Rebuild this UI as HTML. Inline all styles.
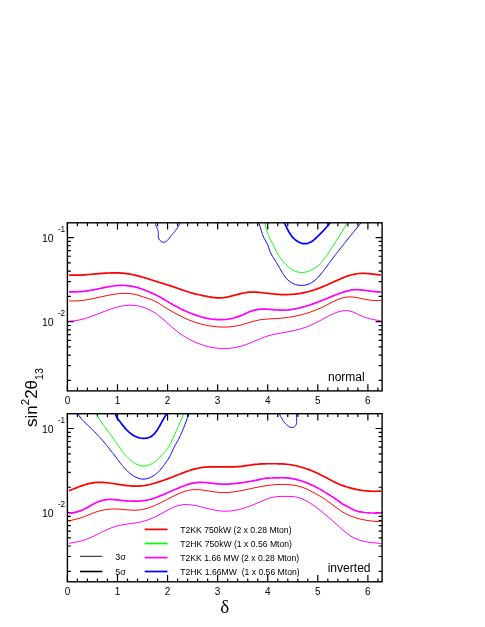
<!DOCTYPE html>
<html><head><meta charset="utf-8"><title>chart</title>
<style>html,body{margin:0;padding:0;background:#fff;}body{width:485px;height:627px;overflow:hidden;font-family:"Liberation Sans",sans-serif;}svg{display:block;will-change:transform;}</style>
</head><body>
<svg width="485" height="627" viewBox="0 0 485 627" font-family="Liberation Sans, sans-serif" fill="#000">
<defs><clipPath id="cu"><rect x="67.40" y="222.80" width="314.70" height="168.10"/></clipPath><clipPath id="cl"><rect x="67.40" y="413.70" width="314.70" height="168.10"/></clipPath></defs>
<path d="M67.40 390.90 v-6.70 M67.40 222.80 v6.70 M77.42 390.90 v-3.40 M77.42 222.80 v3.40 M87.43 390.90 v-3.40 M87.43 222.80 v3.40 M97.45 390.90 v-3.40 M97.45 222.80 v3.40 M107.46 390.90 v-3.40 M107.46 222.80 v3.40 M117.48 390.90 v-6.70 M117.48 222.80 v6.70 M127.50 390.90 v-3.40 M127.50 222.80 v3.40 M137.51 390.90 v-3.40 M137.51 222.80 v3.40 M147.53 390.90 v-3.40 M147.53 222.80 v3.40 M157.54 390.90 v-3.40 M157.54 222.80 v3.40 M167.56 390.90 v-6.70 M167.56 222.80 v6.70 M177.58 390.90 v-3.40 M177.58 222.80 v3.40 M187.59 390.90 v-3.40 M187.59 222.80 v3.40 M197.61 390.90 v-3.40 M197.61 222.80 v3.40 M207.62 390.90 v-3.40 M207.62 222.80 v3.40 M217.64 390.90 v-6.70 M217.64 222.80 v6.70 M227.66 390.90 v-3.40 M227.66 222.80 v3.40 M237.67 390.90 v-3.40 M237.67 222.80 v3.40 M247.69 390.90 v-3.40 M247.69 222.80 v3.40 M257.70 390.90 v-3.40 M257.70 222.80 v3.40 M267.72 390.90 v-6.70 M267.72 222.80 v6.70 M277.74 390.90 v-3.40 M277.74 222.80 v3.40 M287.75 390.90 v-3.40 M287.75 222.80 v3.40 M297.77 390.90 v-3.40 M297.77 222.80 v3.40 M307.78 390.90 v-3.40 M307.78 222.80 v3.40 M317.80 390.90 v-6.70 M317.80 222.80 v6.70 M327.82 390.90 v-3.40 M327.82 222.80 v3.40 M337.83 390.90 v-3.40 M337.83 222.80 v3.40 M347.85 390.90 v-3.40 M347.85 222.80 v3.40 M357.86 390.90 v-3.40 M357.86 222.80 v3.40 M367.88 390.90 v-6.70 M367.88 222.80 v6.70 M377.90 390.90 v-3.40 M377.90 222.80 v3.40 M67.40 380.40 h3.50 M382.10 380.40 h-3.50 M67.40 365.60 h3.50 M382.10 365.60 h-3.50 M67.40 355.10 h3.50 M382.10 355.10 h-3.50 M67.40 346.95 h3.50 M382.10 346.95 h-3.50 M67.40 340.30 h3.50 M382.10 340.30 h-3.50 M67.40 334.67 h3.50 M382.10 334.67 h-3.50 M67.40 329.80 h3.50 M382.10 329.80 h-3.50 M67.40 325.50 h3.50 M382.10 325.50 h-3.50 M67.40 321.65 h6.50 M382.10 321.65 h-6.50 M67.40 296.35 h3.50 M382.10 296.35 h-3.50 M67.40 281.55 h3.50 M382.10 281.55 h-3.50 M67.40 271.05 h3.50 M382.10 271.05 h-3.50 M67.40 262.90 h3.50 M382.10 262.90 h-3.50 M67.40 256.25 h3.50 M382.10 256.25 h-3.50 M67.40 250.62 h3.50 M382.10 250.62 h-3.50 M67.40 245.75 h3.50 M382.10 245.75 h-3.50 M67.40 241.45 h3.50 M382.10 241.45 h-3.50 M67.40 237.60 h6.50 M382.10 237.60 h-6.50" stroke="#000" stroke-width="1.2" fill="none"/>
<text x="67.50" y="404.30" font-size="10" text-anchor="middle">0</text>
<text x="117.55" y="404.30" font-size="10" text-anchor="middle">1</text>
<text x="167.60" y="404.30" font-size="10" text-anchor="middle">2</text>
<text x="217.65" y="404.30" font-size="10" text-anchor="middle">3</text>
<text x="267.70" y="404.30" font-size="10" text-anchor="middle">4</text>
<text x="317.75" y="404.30" font-size="10" text-anchor="middle">5</text>
<text x="367.80" y="404.30" font-size="10" text-anchor="middle">6</text>
<text x="42.0" y="241.80" font-size="10.5">10</text>
<text x="57.9" y="232.10" font-size="8.2">-1</text>
<text x="42.0" y="325.85" font-size="10.5">10</text>
<text x="57.9" y="316.15" font-size="8.2">-2</text>
<path d="M67.40 581.80 v-6.70 M67.40 413.70 v6.70 M77.42 581.80 v-3.40 M77.42 413.70 v3.40 M87.43 581.80 v-3.40 M87.43 413.70 v3.40 M97.45 581.80 v-3.40 M97.45 413.70 v3.40 M107.46 581.80 v-3.40 M107.46 413.70 v3.40 M117.48 581.80 v-6.70 M117.48 413.70 v6.70 M127.50 581.80 v-3.40 M127.50 413.70 v3.40 M137.51 581.80 v-3.40 M137.51 413.70 v3.40 M147.53 581.80 v-3.40 M147.53 413.70 v3.40 M157.54 581.80 v-3.40 M157.54 413.70 v3.40 M167.56 581.80 v-6.70 M167.56 413.70 v6.70 M177.58 581.80 v-3.40 M177.58 413.70 v3.40 M187.59 581.80 v-3.40 M187.59 413.70 v3.40 M197.61 581.80 v-3.40 M197.61 413.70 v3.40 M207.62 581.80 v-3.40 M207.62 413.70 v3.40 M217.64 581.80 v-6.70 M217.64 413.70 v6.70 M227.66 581.80 v-3.40 M227.66 413.70 v3.40 M237.67 581.80 v-3.40 M237.67 413.70 v3.40 M247.69 581.80 v-3.40 M247.69 413.70 v3.40 M257.70 581.80 v-3.40 M257.70 413.70 v3.40 M267.72 581.80 v-6.70 M267.72 413.70 v6.70 M277.74 581.80 v-3.40 M277.74 413.70 v3.40 M287.75 581.80 v-3.40 M287.75 413.70 v3.40 M297.77 581.80 v-3.40 M297.77 413.70 v3.40 M307.78 581.80 v-3.40 M307.78 413.70 v3.40 M317.80 581.80 v-6.70 M317.80 413.70 v6.70 M327.82 581.80 v-3.40 M327.82 413.70 v3.40 M337.83 581.80 v-3.40 M337.83 413.70 v3.40 M347.85 581.80 v-3.40 M347.85 413.70 v3.40 M357.86 581.80 v-3.40 M357.86 413.70 v3.40 M367.88 581.80 v-6.70 M367.88 413.70 v6.70 M377.90 581.80 v-3.40 M377.90 413.70 v3.40 M67.40 571.30 h3.50 M382.10 571.30 h-3.50 M67.40 556.50 h3.50 M382.10 556.50 h-3.50 M67.40 546.00 h3.50 M382.10 546.00 h-3.50 M67.40 537.85 h3.50 M382.10 537.85 h-3.50 M67.40 531.20 h3.50 M382.10 531.20 h-3.50 M67.40 525.57 h3.50 M382.10 525.57 h-3.50 M67.40 520.70 h3.50 M382.10 520.70 h-3.50 M67.40 516.40 h3.50 M382.10 516.40 h-3.50 M67.40 512.55 h6.50 M382.10 512.55 h-6.50 M67.40 487.25 h3.50 M382.10 487.25 h-3.50 M67.40 472.45 h3.50 M382.10 472.45 h-3.50 M67.40 461.95 h3.50 M382.10 461.95 h-3.50 M67.40 453.80 h3.50 M382.10 453.80 h-3.50 M67.40 447.15 h3.50 M382.10 447.15 h-3.50 M67.40 441.52 h3.50 M382.10 441.52 h-3.50 M67.40 436.65 h3.50 M382.10 436.65 h-3.50 M67.40 432.35 h3.50 M382.10 432.35 h-3.50 M67.40 428.50 h6.50 M382.10 428.50 h-6.50" stroke="#000" stroke-width="1.2" fill="none"/>
<text x="67.50" y="594.60" font-size="10" text-anchor="middle">0</text>
<text x="117.55" y="594.60" font-size="10" text-anchor="middle">1</text>
<text x="167.60" y="594.60" font-size="10" text-anchor="middle">2</text>
<text x="217.65" y="594.60" font-size="10" text-anchor="middle">3</text>
<text x="267.70" y="594.60" font-size="10" text-anchor="middle">4</text>
<text x="317.75" y="594.60" font-size="10" text-anchor="middle">5</text>
<text x="367.80" y="594.60" font-size="10" text-anchor="middle">6</text>
<text x="42.0" y="432.70" font-size="10.5">10</text>
<text x="57.9" y="423.00" font-size="8.2">-1</text>
<text x="42.0" y="516.75" font-size="10.5">10</text>
<text x="57.9" y="507.05" font-size="8.2">-2</text>
<path d="M68.90 321.02 C69.23 321.02 70.23 321.04 70.90 321.02 C71.57 321.00 72.23 320.97 72.90 320.92 C73.57 320.87 74.23 320.80 74.90 320.72 C75.57 320.64 76.23 320.54 76.90 320.43 C77.57 320.32 78.23 320.20 78.90 320.07 C79.57 319.93 80.23 319.79 80.90 319.63 C81.57 319.47 82.23 319.30 82.90 319.13 C83.57 318.95 84.23 318.76 84.90 318.56 C85.57 318.37 86.23 318.16 86.90 317.95 C87.57 317.73 88.23 317.51 88.90 317.29 C89.57 317.06 90.23 316.83 90.90 316.59 C91.57 316.35 92.23 316.11 92.90 315.86 C93.57 315.61 94.23 315.36 94.90 315.11 C95.57 314.85 96.23 314.59 96.90 314.33 C97.57 314.08 98.23 313.81 98.90 313.55 C99.57 313.29 100.23 313.03 100.90 312.77 C101.57 312.51 102.23 312.24 102.90 311.99 C103.57 311.73 104.23 311.47 104.90 311.21 C105.57 310.96 106.23 310.71 106.90 310.46 C107.57 310.21 108.23 309.97 108.90 309.73 C109.57 309.49 110.23 309.26 110.90 309.03 C111.57 308.81 112.23 308.59 112.90 308.37 C113.57 308.16 114.23 307.95 114.90 307.76 C115.57 307.56 116.23 307.37 116.90 307.20 C117.57 307.02 118.23 306.85 118.90 306.69 C119.57 306.54 120.23 306.39 120.90 306.25 C121.57 306.12 122.23 306.00 122.90 305.88 C123.57 305.77 124.23 305.68 124.90 305.59 C125.57 305.51 126.23 305.43 126.90 305.38 C127.57 305.32 128.23 305.28 128.90 305.25 C129.57 305.22 130.23 305.21 130.90 305.21 C131.57 305.21 132.23 305.23 132.90 305.27 C133.57 305.30 134.23 305.36 134.90 305.43 C135.57 305.50 136.23 305.58 136.90 305.69 C137.57 305.80 138.23 305.92 138.90 306.06 C139.57 306.21 140.23 306.37 140.90 306.55 C141.57 306.73 142.23 306.94 142.90 307.16 C143.57 307.37 144.23 307.61 144.90 307.86 C145.57 308.11 146.23 308.38 146.90 308.65 C147.57 308.93 148.23 309.22 148.90 309.53 C149.57 309.83 150.23 310.15 150.90 310.50 C151.57 310.84 152.23 311.20 152.90 311.59 C153.57 311.97 154.23 312.38 154.90 312.82 C155.57 313.25 156.23 313.72 156.90 314.20 C157.57 314.69 158.23 315.20 158.90 315.73 C159.57 316.25 160.23 316.80 160.90 317.36 C161.57 317.92 162.23 318.49 162.90 319.07 C163.57 319.65 164.23 320.25 164.90 320.85 C165.57 321.44 166.23 322.05 166.90 322.65 C167.57 323.25 168.23 323.86 168.90 324.45 C169.57 325.05 170.23 325.65 170.90 326.24 C171.57 326.82 172.23 327.40 172.90 327.97 C173.57 328.54 174.23 329.10 174.90 329.64 C175.57 330.19 176.23 330.72 176.90 331.24 C177.57 331.76 178.23 332.27 178.90 332.76 C179.57 333.26 180.23 333.74 180.90 334.20 C181.57 334.66 182.23 335.11 182.90 335.55 C183.57 335.98 184.23 336.40 184.90 336.81 C185.57 337.22 186.23 337.61 186.90 338.00 C187.57 338.38 188.23 338.75 188.90 339.11 C189.57 339.47 190.23 339.81 190.90 340.15 C191.57 340.48 192.23 340.80 192.90 341.12 C193.57 341.43 194.23 341.73 194.90 342.03 C195.57 342.32 196.23 342.60 196.90 342.88 C197.57 343.15 198.23 343.41 198.90 343.67 C199.57 343.92 200.23 344.17 200.90 344.41 C201.57 344.64 202.23 344.87 202.90 345.08 C203.57 345.30 204.23 345.51 204.90 345.70 C205.57 345.90 206.23 346.09 206.90 346.26 C207.57 346.44 208.23 346.61 208.90 346.77 C209.57 346.92 210.23 347.07 210.90 347.21 C211.57 347.34 212.23 347.47 212.90 347.59 C213.57 347.70 214.23 347.81 214.90 347.90 C215.57 348.00 216.23 348.08 216.90 348.16 C217.57 348.23 218.23 348.30 218.90 348.35 C219.57 348.41 220.23 348.45 220.90 348.48 C221.57 348.51 222.23 348.54 222.90 348.55 C223.57 348.56 224.23 348.56 224.90 348.55 C225.57 348.54 226.23 348.52 226.90 348.48 C227.57 348.45 228.23 348.41 228.90 348.35 C229.57 348.30 230.23 348.23 230.90 348.16 C231.57 348.08 232.23 347.99 232.90 347.89 C233.57 347.79 234.23 347.68 234.90 347.56 C235.57 347.44 236.23 347.30 236.90 347.16 C237.57 347.01 238.23 346.85 238.90 346.69 C239.57 346.52 240.23 346.34 240.90 346.15 C241.57 345.96 242.23 345.76 242.90 345.56 C243.57 345.35 244.23 345.13 244.90 344.91 C245.57 344.68 246.23 344.45 246.90 344.21 C247.57 343.97 248.23 343.72 248.90 343.47 C249.57 343.21 250.23 342.95 250.90 342.69 C251.57 342.43 252.23 342.16 252.90 341.88 C253.57 341.61 254.23 341.33 254.90 341.05 C255.57 340.77 256.23 340.48 256.90 340.19 C257.57 339.91 258.23 339.62 258.90 339.34 C259.57 339.06 260.23 338.77 260.90 338.50 C261.57 338.22 262.23 337.95 262.90 337.69 C263.57 337.43 264.23 337.17 264.90 336.93 C265.57 336.69 266.23 336.46 266.90 336.24 C267.57 336.02 268.23 335.82 268.90 335.63 C269.57 335.44 270.23 335.26 270.90 335.08 C271.57 334.91 272.23 334.75 272.90 334.60 C273.57 334.45 274.23 334.30 274.90 334.16 C275.57 334.03 276.23 333.89 276.90 333.77 C277.57 333.64 278.23 333.52 278.90 333.40 C279.57 333.28 280.23 333.16 280.90 333.04 C281.57 332.93 282.23 332.81 282.90 332.70 C283.57 332.58 284.23 332.46 284.90 332.35 C285.57 332.23 286.23 332.11 286.90 331.99 C287.57 331.86 288.23 331.74 288.90 331.61 C289.57 331.48 290.23 331.35 290.90 331.22 C291.57 331.08 292.23 330.94 292.90 330.80 C293.57 330.65 294.23 330.51 294.90 330.35 C295.57 330.20 296.23 330.04 296.90 329.87 C297.57 329.70 298.23 329.53 298.90 329.35 C299.57 329.17 300.23 328.98 300.90 328.78 C301.57 328.58 302.23 328.38 302.90 328.17 C303.57 327.95 304.23 327.73 304.90 327.49 C305.57 327.26 306.23 327.02 306.90 326.76 C307.57 326.51 308.23 326.25 308.90 325.97 C309.57 325.70 310.23 325.41 310.90 325.12 C311.57 324.82 312.23 324.52 312.90 324.21 C313.57 323.89 314.23 323.57 314.90 323.25 C315.57 322.92 316.23 322.59 316.90 322.25 C317.57 321.92 318.23 321.57 318.90 321.23 C319.57 320.88 320.23 320.53 320.90 320.18 C321.57 319.83 322.23 319.47 322.90 319.12 C323.57 318.76 324.23 318.40 324.90 318.05 C325.57 317.69 326.23 317.33 326.90 316.98 C327.57 316.63 328.23 316.28 328.90 315.94 C329.57 315.60 330.23 315.26 330.90 314.94 C331.57 314.62 332.23 314.30 332.90 314.00 C333.57 313.70 334.23 313.41 334.90 313.14 C335.57 312.87 336.23 312.61 336.90 312.37 C337.57 312.14 338.23 311.92 338.90 311.72 C339.57 311.53 340.23 311.36 340.90 311.21 C341.57 311.06 342.23 310.94 342.90 310.85 C343.57 310.76 344.23 310.69 344.90 310.66 C345.57 310.63 346.23 310.63 346.90 310.66 C347.57 310.70 348.23 310.76 348.90 310.87 C349.57 310.98 350.23 311.12 350.90 311.31 C351.57 311.49 352.23 311.73 352.90 311.99 C353.57 312.25 354.23 312.55 354.90 312.86 C355.57 313.17 356.23 313.50 356.90 313.83 C357.57 314.15 358.23 314.48 358.90 314.79 C359.57 315.10 360.23 315.41 360.90 315.70 C361.57 315.99 362.23 316.28 362.90 316.54 C363.57 316.80 364.23 317.04 364.90 317.27 C365.57 317.50 366.23 317.71 366.90 317.91 C367.57 318.11 368.23 318.29 368.90 318.47 C369.57 318.64 370.23 318.80 370.90 318.96 C371.57 319.11 372.23 319.26 372.90 319.40 C373.57 319.54 374.23 319.67 374.90 319.80 C375.57 319.93 376.23 320.05 376.90 320.17 C377.57 320.30 378.23 320.42 378.90 320.54 C379.57 320.66 380.57 320.84 380.90 320.90" fill="none" stroke="#ff00ff" stroke-width="1.00" stroke-linejoin="round" clip-path="url(#cu)"/>
<path d="M68.90 300.80 C69.23 300.83 70.23 300.90 70.90 300.94 C71.57 300.97 72.23 300.99 72.90 300.99 C73.57 301.00 74.23 301.00 74.90 300.98 C75.57 300.97 76.23 300.94 76.90 300.91 C77.57 300.87 78.23 300.83 78.90 300.77 C79.57 300.72 80.23 300.65 80.90 300.58 C81.57 300.51 82.23 300.43 82.90 300.34 C83.57 300.26 84.23 300.16 84.90 300.06 C85.57 299.96 86.23 299.86 86.90 299.74 C87.57 299.63 88.23 299.51 88.90 299.39 C89.57 299.27 90.23 299.14 90.90 299.01 C91.57 298.88 92.23 298.74 92.90 298.61 C93.57 298.47 94.23 298.33 94.90 298.19 C95.57 298.04 96.23 297.90 96.90 297.75 C97.57 297.61 98.23 297.46 98.90 297.31 C99.57 297.17 100.23 297.02 100.90 296.87 C101.57 296.73 102.23 296.58 102.90 296.43 C103.57 296.29 104.23 296.15 104.90 296.00 C105.57 295.86 106.23 295.72 106.90 295.59 C107.57 295.45 108.23 295.32 108.90 295.19 C109.57 295.06 110.23 294.94 110.90 294.82 C111.57 294.70 112.23 294.59 112.90 294.48 C113.57 294.37 114.23 294.27 114.90 294.17 C115.57 294.07 116.23 293.98 116.90 293.90 C117.57 293.82 118.23 293.75 118.90 293.69 C119.57 293.62 120.23 293.57 120.90 293.52 C121.57 293.48 122.23 293.44 122.90 293.42 C123.57 293.40 124.23 293.38 124.90 293.38 C125.57 293.38 126.23 293.39 126.90 293.42 C127.57 293.44 128.23 293.48 128.90 293.53 C129.57 293.58 130.23 293.65 130.90 293.73 C131.57 293.81 132.23 293.91 132.90 294.02 C133.57 294.14 134.23 294.26 134.90 294.41 C135.57 294.56 136.23 294.72 136.90 294.90 C137.57 295.08 138.23 295.28 138.90 295.49 C139.57 295.69 140.23 295.92 140.90 296.14 C141.57 296.35 142.23 296.58 142.90 296.81 C143.57 297.03 144.23 297.25 144.90 297.46 C145.57 297.68 146.23 297.88 146.90 298.10 C147.57 298.31 148.23 298.51 148.90 298.73 C149.57 298.96 150.23 299.18 150.90 299.42 C151.57 299.66 152.23 299.92 152.90 300.20 C153.57 300.48 154.23 300.77 154.90 301.10 C155.57 301.43 156.23 301.79 156.90 302.16 C157.57 302.54 158.23 302.94 158.90 303.35 C159.57 303.76 160.23 304.19 160.90 304.62 C161.57 305.06 162.23 305.50 162.90 305.94 C163.57 306.37 164.23 306.81 164.90 307.24 C165.57 307.66 166.23 308.08 166.90 308.49 C167.57 308.90 168.23 309.29 168.90 309.69 C169.57 310.08 170.23 310.46 170.90 310.84 C171.57 311.22 172.23 311.59 172.90 311.96 C173.57 312.32 174.23 312.69 174.90 313.05 C175.57 313.41 176.23 313.77 176.90 314.13 C177.57 314.48 178.23 314.84 178.90 315.19 C179.57 315.54 180.23 315.88 180.90 316.22 C181.57 316.56 182.23 316.90 182.90 317.23 C183.57 317.55 184.23 317.87 184.90 318.18 C185.57 318.50 186.23 318.80 186.90 319.09 C187.57 319.39 188.23 319.67 188.90 319.95 C189.57 320.22 190.23 320.49 190.90 320.74 C191.57 321.00 192.23 321.25 192.90 321.49 C193.57 321.73 194.23 321.96 194.90 322.19 C195.57 322.41 196.23 322.62 196.90 322.83 C197.57 323.04 198.23 323.24 198.90 323.43 C199.57 323.62 200.23 323.80 200.90 323.98 C201.57 324.15 202.23 324.32 202.90 324.48 C203.57 324.64 204.23 324.80 204.90 324.94 C205.57 325.09 206.23 325.23 206.90 325.36 C207.57 325.49 208.23 325.62 208.90 325.73 C209.57 325.85 210.23 325.96 210.90 326.06 C211.57 326.17 212.23 326.26 212.90 326.35 C213.57 326.44 214.23 326.52 214.90 326.59 C215.57 326.66 216.23 326.73 216.90 326.78 C217.57 326.84 218.23 326.89 218.90 326.93 C219.57 326.97 220.23 327.00 220.90 327.02 C221.57 327.05 222.23 327.06 222.90 327.07 C223.57 327.07 224.23 327.07 224.90 327.06 C225.57 327.05 226.23 327.03 226.90 327.00 C227.57 326.97 228.23 326.93 228.90 326.89 C229.57 326.84 230.23 326.78 230.90 326.72 C231.57 326.65 232.23 326.57 232.90 326.49 C233.57 326.40 234.23 326.31 234.90 326.21 C235.57 326.10 236.23 325.99 236.90 325.86 C237.57 325.74 238.23 325.60 238.90 325.46 C239.57 325.31 240.23 325.16 240.90 324.99 C241.57 324.83 242.23 324.65 242.90 324.46 C243.57 324.28 244.23 324.09 244.90 323.89 C245.57 323.69 246.23 323.48 246.90 323.28 C247.57 323.07 248.23 322.86 248.90 322.66 C249.57 322.45 250.23 322.24 250.90 322.04 C251.57 321.84 252.23 321.64 252.90 321.45 C253.57 321.26 254.23 321.07 254.90 320.90 C255.57 320.73 256.23 320.56 256.90 320.42 C257.57 320.27 258.23 320.13 258.90 320.01 C259.57 319.90 260.23 319.79 260.90 319.70 C261.57 319.61 262.23 319.53 262.90 319.45 C263.57 319.38 264.23 319.32 264.90 319.26 C265.57 319.20 266.23 319.15 266.90 319.10 C267.57 319.05 268.23 319.01 268.90 318.97 C269.57 318.92 270.23 318.88 270.90 318.84 C271.57 318.80 272.23 318.76 272.90 318.72 C273.57 318.68 274.23 318.64 274.90 318.60 C275.57 318.56 276.23 318.52 276.90 318.48 C277.57 318.43 278.23 318.39 278.90 318.34 C279.57 318.29 280.23 318.24 280.90 318.18 C281.57 318.13 282.23 318.07 282.90 318.00 C283.57 317.94 284.23 317.87 284.90 317.79 C285.57 317.71 286.23 317.63 286.90 317.55 C287.57 317.46 288.23 317.37 288.90 317.27 C289.57 317.17 290.23 317.07 290.90 316.96 C291.57 316.85 292.23 316.74 292.90 316.62 C293.57 316.50 294.23 316.37 294.90 316.24 C295.57 316.11 296.23 315.97 296.90 315.83 C297.57 315.68 298.23 315.53 298.90 315.38 C299.57 315.22 300.23 315.06 300.90 314.89 C301.57 314.72 302.23 314.55 302.90 314.36 C303.57 314.18 304.23 314.00 304.90 313.80 C305.57 313.61 306.23 313.41 306.90 313.20 C307.57 312.99 308.23 312.78 308.90 312.56 C309.57 312.34 310.23 312.11 310.90 311.88 C311.57 311.65 312.23 311.40 312.90 311.16 C313.57 310.91 314.23 310.66 314.90 310.39 C315.57 310.13 316.23 309.86 316.90 309.59 C317.57 309.31 318.23 309.03 318.90 308.74 C319.57 308.45 320.23 308.15 320.90 307.85 C321.57 307.54 322.23 307.23 322.90 306.91 C323.57 306.59 324.23 306.26 324.90 305.93 C325.57 305.60 326.23 305.25 326.90 304.91 C327.57 304.57 328.23 304.22 328.90 303.87 C329.57 303.53 330.23 303.18 330.90 302.84 C331.57 302.50 332.23 302.16 332.90 301.83 C333.57 301.50 334.23 301.17 334.90 300.86 C335.57 300.54 336.23 300.24 336.90 299.95 C337.57 299.66 338.23 299.38 338.90 299.12 C339.57 298.87 340.23 298.62 340.90 298.40 C341.57 298.18 342.23 297.98 342.90 297.80 C343.57 297.63 344.23 297.47 344.90 297.35 C345.57 297.22 346.23 297.13 346.90 297.06 C347.57 296.99 348.23 296.95 348.90 296.93 C349.57 296.91 350.23 296.92 350.90 296.94 C351.57 296.97 352.23 297.02 352.90 297.08 C353.57 297.14 354.23 297.22 354.90 297.32 C355.57 297.41 356.23 297.52 356.90 297.63 C357.57 297.75 358.23 297.88 358.90 298.01 C359.57 298.14 360.23 298.28 360.90 298.42 C361.57 298.56 362.23 298.71 362.90 298.85 C363.57 298.99 364.23 299.13 364.90 299.26 C365.57 299.40 366.23 299.53 366.90 299.65 C367.57 299.77 368.23 299.88 368.90 299.98 C369.57 300.08 370.23 300.16 370.90 300.24 C371.57 300.31 372.23 300.37 372.90 300.42 C373.57 300.47 374.23 300.51 374.90 300.54 C375.57 300.56 376.23 300.58 376.90 300.58 C377.57 300.59 378.23 300.58 378.90 300.56 C379.57 300.55 380.57 300.50 380.90 300.49" fill="none" stroke="#ff0000" stroke-width="1.00" stroke-linejoin="round" clip-path="url(#cu)"/>
<path d="M68.90 291.90 C69.23 291.91 70.23 291.93 70.90 291.94 C71.57 291.95 72.23 291.94 72.90 291.94 C73.57 291.93 74.23 291.91 74.90 291.89 C75.57 291.87 76.23 291.84 76.90 291.81 C77.57 291.77 78.23 291.73 78.90 291.69 C79.57 291.64 80.23 291.59 80.90 291.53 C81.57 291.47 82.23 291.40 82.90 291.33 C83.57 291.26 84.23 291.19 84.90 291.11 C85.57 291.03 86.23 290.94 86.90 290.85 C87.57 290.76 88.23 290.66 88.90 290.56 C89.57 290.46 90.23 290.35 90.90 290.24 C91.57 290.13 92.23 290.01 92.90 289.90 C93.57 289.78 94.23 289.65 94.90 289.52 C95.57 289.40 96.23 289.26 96.90 289.13 C97.57 288.99 98.23 288.85 98.90 288.71 C99.57 288.57 100.23 288.43 100.90 288.29 C101.57 288.15 102.23 288.00 102.90 287.86 C103.57 287.72 104.23 287.58 104.90 287.44 C105.57 287.30 106.23 287.17 106.90 287.04 C107.57 286.91 108.23 286.78 108.90 286.66 C109.57 286.54 110.23 286.43 110.90 286.32 C111.57 286.21 112.23 286.11 112.90 286.02 C113.57 285.93 114.23 285.84 114.90 285.77 C115.57 285.70 116.23 285.64 116.90 285.59 C117.57 285.53 118.23 285.49 118.90 285.46 C119.57 285.43 120.23 285.41 120.90 285.40 C121.57 285.39 122.23 285.39 122.90 285.40 C123.57 285.42 124.23 285.44 124.90 285.48 C125.57 285.51 126.23 285.56 126.90 285.62 C127.57 285.68 128.23 285.75 128.90 285.83 C129.57 285.92 130.23 286.01 130.90 286.12 C131.57 286.23 132.23 286.34 132.90 286.48 C133.57 286.61 134.23 286.76 134.90 286.91 C135.57 287.07 136.23 287.24 136.90 287.43 C137.57 287.61 138.23 287.81 138.90 288.02 C139.57 288.23 140.23 288.46 140.90 288.69 C141.57 288.92 142.23 289.17 142.90 289.42 C143.57 289.67 144.23 289.93 144.90 290.19 C145.57 290.45 146.23 290.71 146.90 290.98 C147.57 291.24 148.23 291.51 148.90 291.78 C149.57 292.05 150.23 292.33 150.90 292.61 C151.57 292.89 152.23 293.18 152.90 293.48 C153.57 293.78 154.23 294.09 154.90 294.41 C155.57 294.73 156.23 295.06 156.90 295.41 C157.57 295.75 158.23 296.11 158.90 296.47 C159.57 296.83 160.23 297.20 160.90 297.58 C161.57 297.96 162.23 298.35 162.90 298.73 C163.57 299.12 164.23 299.52 164.90 299.91 C165.57 300.31 166.23 300.71 166.90 301.11 C167.57 301.50 168.23 301.90 168.90 302.30 C169.57 302.70 170.23 303.10 170.90 303.49 C171.57 303.88 172.23 304.27 172.90 304.65 C173.57 305.04 174.23 305.42 174.90 305.79 C175.57 306.16 176.23 306.52 176.90 306.87 C177.57 307.23 178.23 307.58 178.90 307.91 C179.57 308.25 180.23 308.59 180.90 308.91 C181.57 309.24 182.23 309.55 182.90 309.87 C183.57 310.18 184.23 310.48 184.90 310.78 C185.57 311.08 186.23 311.38 186.90 311.66 C187.57 311.95 188.23 312.24 188.90 312.51 C189.57 312.79 190.23 313.06 190.90 313.32 C191.57 313.59 192.23 313.85 192.90 314.10 C193.57 314.35 194.23 314.59 194.90 314.83 C195.57 315.07 196.23 315.30 196.90 315.52 C197.57 315.74 198.23 315.96 198.90 316.17 C199.57 316.37 200.23 316.57 200.90 316.76 C201.57 316.96 202.23 317.14 202.90 317.31 C203.57 317.49 204.23 317.65 204.90 317.81 C205.57 317.97 206.23 318.11 206.90 318.25 C207.57 318.39 208.23 318.52 208.90 318.64 C209.57 318.76 210.23 318.87 210.90 318.97 C211.57 319.07 212.23 319.16 212.90 319.24 C213.57 319.32 214.23 319.39 214.90 319.45 C215.57 319.50 216.23 319.55 216.90 319.59 C217.57 319.63 218.23 319.65 218.90 319.67 C219.57 319.68 220.23 319.69 220.90 319.68 C221.57 319.67 222.23 319.65 222.90 319.62 C223.57 319.59 224.23 319.54 224.90 319.49 C225.57 319.43 226.23 319.36 226.90 319.28 C227.57 319.20 228.23 319.11 228.90 319.00 C229.57 318.90 230.23 318.78 230.90 318.64 C231.57 318.51 232.23 318.37 232.90 318.21 C233.57 318.05 234.23 317.87 234.90 317.69 C235.57 317.50 236.23 317.30 236.90 317.08 C237.57 316.87 238.23 316.64 238.90 316.39 C239.57 316.15 240.23 315.89 240.90 315.62 C241.57 315.34 242.23 315.05 242.90 314.75 C243.57 314.46 244.23 314.14 244.90 313.83 C245.57 313.53 246.23 313.21 246.90 312.91 C247.57 312.61 248.23 312.31 248.90 312.03 C249.57 311.75 250.23 311.49 250.90 311.25 C251.57 311.01 252.23 310.79 252.90 310.59 C253.57 310.39 254.23 310.21 254.90 310.05 C255.57 309.90 256.23 309.76 256.90 309.64 C257.57 309.53 258.23 309.43 258.90 309.35 C259.57 309.28 260.23 309.22 260.90 309.18 C261.57 309.14 262.23 309.12 262.90 309.10 C263.57 309.09 264.23 309.10 264.90 309.11 C265.57 309.13 266.23 309.15 266.90 309.19 C267.57 309.22 268.23 309.27 268.90 309.31 C269.57 309.36 270.23 309.42 270.90 309.47 C271.57 309.53 272.23 309.59 272.90 309.65 C273.57 309.71 274.23 309.77 274.90 309.82 C275.57 309.88 276.23 309.93 276.90 309.98 C277.57 310.02 278.23 310.07 278.90 310.10 C279.57 310.13 280.23 310.16 280.90 310.17 C281.57 310.18 282.23 310.19 282.90 310.18 C283.57 310.17 284.23 310.15 284.90 310.12 C285.57 310.09 286.23 310.05 286.90 310.00 C287.57 309.95 288.23 309.88 288.90 309.81 C289.57 309.74 290.23 309.66 290.90 309.57 C291.57 309.49 292.23 309.39 292.90 309.28 C293.57 309.17 294.23 309.06 294.90 308.93 C295.57 308.81 296.23 308.68 296.90 308.54 C297.57 308.40 298.23 308.25 298.90 308.09 C299.57 307.94 300.23 307.77 300.90 307.61 C301.57 307.44 302.23 307.26 302.90 307.08 C303.57 306.89 304.23 306.70 304.90 306.51 C305.57 306.31 306.23 306.11 306.90 305.90 C307.57 305.70 308.23 305.48 308.90 305.27 C309.57 305.05 310.23 304.82 310.90 304.60 C311.57 304.37 312.23 304.13 312.90 303.90 C313.57 303.66 314.23 303.42 314.90 303.17 C315.57 302.93 316.23 302.68 316.90 302.43 C317.57 302.18 318.23 301.92 318.90 301.66 C319.57 301.40 320.23 301.14 320.90 300.88 C321.57 300.61 322.23 300.34 322.90 300.08 C323.57 299.81 324.23 299.54 324.90 299.26 C325.57 298.99 326.23 298.72 326.90 298.45 C327.57 298.17 328.23 297.90 328.90 297.63 C329.57 297.36 330.23 297.08 330.90 296.81 C331.57 296.54 332.23 296.27 332.90 296.01 C333.57 295.74 334.23 295.48 334.90 295.22 C335.57 294.96 336.23 294.70 336.90 294.45 C337.57 294.19 338.23 293.95 338.90 293.70 C339.57 293.46 340.23 293.22 340.90 292.99 C341.57 292.75 342.23 292.53 342.90 292.31 C343.57 292.09 344.23 291.87 344.90 291.67 C345.57 291.46 346.23 291.26 346.90 291.08 C347.57 290.90 348.23 290.73 348.90 290.58 C349.57 290.43 350.23 290.29 350.90 290.18 C351.57 290.07 352.23 289.98 352.90 289.91 C353.57 289.83 354.23 289.78 354.90 289.75 C355.57 289.71 356.23 289.70 356.90 289.70 C357.57 289.70 358.23 289.72 358.90 289.76 C359.57 289.79 360.23 289.84 360.90 289.89 C361.57 289.95 362.23 290.02 362.90 290.09 C363.57 290.17 364.23 290.25 364.90 290.34 C365.57 290.43 366.23 290.52 366.90 290.62 C367.57 290.71 368.23 290.81 368.90 290.91 C369.57 291.00 370.23 291.10 370.90 291.19 C371.57 291.28 372.23 291.37 372.90 291.45 C373.57 291.53 374.23 291.60 374.90 291.66 C375.57 291.73 376.23 291.78 376.90 291.82 C377.57 291.86 378.23 291.90 378.90 291.91 C379.57 291.92 380.57 291.90 380.90 291.90" fill="none" stroke="#ff00ff" stroke-width="1.70" stroke-linejoin="round" clip-path="url(#cu)"/>
<path d="M68.90 274.97 C69.23 274.99 70.23 275.06 70.90 275.09 C71.57 275.13 72.23 275.15 72.90 275.17 C73.57 275.18 74.23 275.19 74.90 275.20 C75.57 275.20 76.23 275.19 76.90 275.18 C77.57 275.17 78.23 275.15 78.90 275.13 C79.57 275.11 80.23 275.08 80.90 275.05 C81.57 275.02 82.23 274.98 82.90 274.94 C83.57 274.90 84.23 274.86 84.90 274.81 C85.57 274.76 86.23 274.71 86.90 274.66 C87.57 274.61 88.23 274.55 88.90 274.49 C89.57 274.44 90.23 274.38 90.90 274.32 C91.57 274.26 92.23 274.20 92.90 274.14 C93.57 274.08 94.23 274.02 94.90 273.96 C95.57 273.90 96.23 273.85 96.90 273.79 C97.57 273.73 98.23 273.68 98.90 273.62 C99.57 273.57 100.23 273.52 100.90 273.47 C101.57 273.42 102.23 273.37 102.90 273.33 C103.57 273.28 104.23 273.24 104.90 273.20 C105.57 273.16 106.23 273.13 106.90 273.09 C107.57 273.06 108.23 273.03 108.90 273.00 C109.57 272.98 110.23 272.95 110.90 272.94 C111.57 272.92 112.23 272.90 112.90 272.89 C113.57 272.88 114.23 272.88 114.90 272.88 C115.57 272.88 116.23 272.88 116.90 272.89 C117.57 272.90 118.23 272.92 118.90 272.94 C119.57 272.96 120.23 272.99 120.90 273.03 C121.57 273.06 122.23 273.11 122.90 273.16 C123.57 273.21 124.23 273.27 124.90 273.34 C125.57 273.41 126.23 273.48 126.90 273.57 C127.57 273.66 128.23 273.75 128.90 273.86 C129.57 273.97 130.23 274.08 130.90 274.21 C131.57 274.34 132.23 274.48 132.90 274.62 C133.57 274.77 134.23 274.92 134.90 275.08 C135.57 275.24 136.23 275.41 136.90 275.58 C137.57 275.76 138.23 275.94 138.90 276.12 C139.57 276.30 140.23 276.49 140.90 276.68 C141.57 276.87 142.23 277.06 142.90 277.26 C143.57 277.46 144.23 277.66 144.90 277.86 C145.57 278.06 146.23 278.26 146.90 278.47 C147.57 278.68 148.23 278.88 148.90 279.09 C149.57 279.30 150.23 279.51 150.90 279.72 C151.57 279.93 152.23 280.14 152.90 280.35 C153.57 280.56 154.23 280.77 154.90 280.97 C155.57 281.18 156.23 281.39 156.90 281.60 C157.57 281.81 158.23 282.01 158.90 282.22 C159.57 282.43 160.23 282.63 160.90 282.84 C161.57 283.05 162.23 283.25 162.90 283.46 C163.57 283.67 164.23 283.88 164.90 284.09 C165.57 284.29 166.23 284.50 166.90 284.72 C167.57 284.93 168.23 285.14 168.90 285.36 C169.57 285.57 170.23 285.79 170.90 286.01 C171.57 286.23 172.23 286.45 172.90 286.68 C173.57 286.90 174.23 287.13 174.90 287.36 C175.57 287.59 176.23 287.82 176.90 288.06 C177.57 288.29 178.23 288.53 178.90 288.77 C179.57 289.01 180.23 289.24 180.90 289.48 C181.57 289.72 182.23 289.96 182.90 290.19 C183.57 290.42 184.23 290.65 184.90 290.88 C185.57 291.10 186.23 291.32 186.90 291.53 C187.57 291.75 188.23 291.96 188.90 292.16 C189.57 292.36 190.23 292.56 190.90 292.75 C191.57 292.94 192.23 293.13 192.90 293.31 C193.57 293.49 194.23 293.66 194.90 293.83 C195.57 293.99 196.23 294.15 196.90 294.31 C197.57 294.46 198.23 294.61 198.90 294.76 C199.57 294.90 200.23 295.04 200.90 295.18 C201.57 295.32 202.23 295.45 202.90 295.58 C203.57 295.72 204.23 295.85 204.90 295.98 C205.57 296.11 206.23 296.24 206.90 296.37 C207.57 296.50 208.23 296.63 208.90 296.76 C209.57 296.88 210.23 297.01 210.90 297.12 C211.57 297.24 212.23 297.35 212.90 297.45 C213.57 297.54 214.23 297.63 214.90 297.71 C215.57 297.78 216.23 297.84 216.90 297.88 C217.57 297.92 218.23 297.94 218.90 297.95 C219.57 297.95 220.23 297.93 220.90 297.89 C221.57 297.86 222.23 297.80 222.90 297.73 C223.57 297.66 224.23 297.57 224.90 297.46 C225.57 297.36 226.23 297.24 226.90 297.11 C227.57 296.98 228.23 296.83 228.90 296.68 C229.57 296.53 230.23 296.36 230.90 296.20 C231.57 296.03 232.23 295.86 232.90 295.68 C233.57 295.50 234.23 295.32 234.90 295.14 C235.57 294.97 236.23 294.79 236.90 294.61 C237.57 294.43 238.23 294.26 238.90 294.09 C239.57 293.92 240.23 293.76 240.90 293.60 C241.57 293.44 242.23 293.29 242.90 293.15 C243.57 293.01 244.23 292.88 244.90 292.76 C245.57 292.64 246.23 292.53 246.90 292.44 C247.57 292.35 248.23 292.27 248.90 292.20 C249.57 292.14 250.23 292.10 250.90 292.07 C251.57 292.04 252.23 292.03 252.90 292.03 C253.57 292.03 254.23 292.05 254.90 292.07 C255.57 292.10 256.23 292.14 256.90 292.18 C257.57 292.23 258.23 292.28 258.90 292.34 C259.57 292.40 260.23 292.47 260.90 292.54 C261.57 292.61 262.23 292.68 262.90 292.76 C263.57 292.84 264.23 292.92 264.90 293.00 C265.57 293.09 266.23 293.17 266.90 293.26 C267.57 293.34 268.23 293.42 268.90 293.51 C269.57 293.59 270.23 293.67 270.90 293.75 C271.57 293.83 272.23 293.90 272.90 293.97 C273.57 294.04 274.23 294.11 274.90 294.17 C275.57 294.23 276.23 294.28 276.90 294.33 C277.57 294.38 278.23 294.42 278.90 294.45 C279.57 294.49 280.23 294.52 280.90 294.54 C281.57 294.56 282.23 294.58 282.90 294.59 C283.57 294.60 284.23 294.60 284.90 294.60 C285.57 294.60 286.23 294.59 286.90 294.57 C287.57 294.56 288.23 294.53 288.90 294.50 C289.57 294.47 290.23 294.44 290.90 294.40 C291.57 294.35 292.23 294.30 292.90 294.25 C293.57 294.19 294.23 294.13 294.90 294.05 C295.57 293.98 296.23 293.90 296.90 293.82 C297.57 293.73 298.23 293.64 298.90 293.54 C299.57 293.44 300.23 293.34 300.90 293.22 C301.57 293.11 302.23 292.98 302.90 292.85 C303.57 292.72 304.23 292.59 304.90 292.44 C305.57 292.30 306.23 292.15 306.90 291.99 C307.57 291.83 308.23 291.66 308.90 291.48 C309.57 291.31 310.23 291.12 310.90 290.93 C311.57 290.74 312.23 290.54 312.90 290.33 C313.57 290.12 314.23 289.91 314.90 289.68 C315.57 289.46 316.23 289.23 316.90 288.99 C317.57 288.75 318.23 288.50 318.90 288.25 C319.57 287.99 320.23 287.73 320.90 287.46 C321.57 287.19 322.23 286.92 322.90 286.64 C323.57 286.36 324.23 286.08 324.90 285.79 C325.57 285.51 326.23 285.22 326.90 284.92 C327.57 284.63 328.23 284.33 328.90 284.04 C329.57 283.74 330.23 283.44 330.90 283.14 C331.57 282.84 332.23 282.54 332.90 282.24 C333.57 281.94 334.23 281.63 334.90 281.34 C335.57 281.04 336.23 280.74 336.90 280.44 C337.57 280.15 338.23 279.85 338.90 279.56 C339.57 279.27 340.23 278.98 340.90 278.70 C341.57 278.42 342.23 278.14 342.90 277.87 C343.57 277.60 344.23 277.33 344.90 277.07 C345.57 276.81 346.23 276.56 346.90 276.32 C347.57 276.08 348.23 275.85 348.90 275.64 C349.57 275.42 350.23 275.21 350.90 275.02 C351.57 274.83 352.23 274.65 352.90 274.49 C353.57 274.33 354.23 274.18 354.90 274.05 C355.57 273.93 356.23 273.82 356.90 273.73 C357.57 273.63 358.23 273.56 358.90 273.51 C359.57 273.45 360.23 273.41 360.90 273.38 C361.57 273.36 362.23 273.35 362.90 273.35 C363.57 273.35 364.23 273.36 364.90 273.39 C365.57 273.41 366.23 273.45 366.90 273.49 C367.57 273.54 368.23 273.59 368.90 273.65 C369.57 273.71 370.23 273.77 370.90 273.84 C371.57 273.91 372.23 273.99 372.90 274.07 C373.57 274.15 374.23 274.23 374.90 274.31 C375.57 274.39 376.23 274.47 376.90 274.56 C377.57 274.64 378.23 274.72 378.90 274.80 C379.57 274.88 380.57 274.98 380.90 275.02" fill="none" stroke="#ff0000" stroke-width="1.70" stroke-linejoin="round" clip-path="url(#cu)"/>
<path d="M264.81 222.50 C264.86 222.74 265.04 223.46 265.15 223.95 C265.27 224.43 265.39 224.92 265.51 225.40 C265.63 225.89 265.75 226.37 265.87 226.86 C265.99 227.34 266.12 227.83 266.25 228.31 C266.38 228.79 266.52 229.28 266.65 229.76 C266.79 230.24 266.93 230.72 267.08 231.20 C267.23 231.68 267.38 232.15 267.54 232.63 C267.70 233.10 267.86 233.58 268.03 234.04 C268.20 234.51 268.38 234.98 268.56 235.44 C268.74 235.91 268.93 236.37 269.13 236.82 C269.33 237.28 269.54 237.73 269.75 238.18 C269.97 238.63 270.19 239.07 270.42 239.51 C270.65 239.95 270.89 240.39 271.13 240.82 C271.37 241.26 271.61 241.70 271.85 242.13 C272.09 242.57 272.34 243.00 272.57 243.44 C272.81 243.88 273.04 244.32 273.27 244.76 C273.49 245.21 273.71 245.66 273.92 246.11 C274.14 246.56 274.34 247.01 274.55 247.47 C274.75 247.92 274.96 248.38 275.16 248.83 C275.37 249.28 275.58 249.74 275.79 250.19 C276.01 250.64 276.23 251.08 276.46 251.53 C276.69 251.97 276.92 252.41 277.16 252.84 C277.40 253.28 277.65 253.71 277.90 254.14 C278.15 254.57 278.41 254.99 278.68 255.41 C278.94 255.83 279.21 256.24 279.49 256.65 C279.77 257.06 280.05 257.46 280.34 257.87 C280.63 258.27 280.92 258.67 281.22 259.07 C281.52 259.46 281.83 259.86 282.14 260.25 C282.45 260.65 282.76 261.04 283.08 261.43 C283.40 261.82 283.72 262.20 284.05 262.59 C284.38 262.97 284.72 263.35 285.06 263.72 C285.40 264.10 285.75 264.47 286.10 264.83 C286.45 265.19 286.81 265.54 287.18 265.89 C287.54 266.24 287.91 266.58 288.29 266.90 C288.67 267.23 289.06 267.55 289.45 267.86 C289.84 268.17 290.24 268.46 290.65 268.75 C291.06 269.03 291.47 269.30 291.90 269.56 C292.32 269.81 292.75 270.06 293.19 270.29 C293.63 270.51 294.08 270.73 294.53 270.92 C294.99 271.12 295.46 271.30 295.93 271.46 C296.40 271.62 296.88 271.76 297.36 271.88 C297.85 272.01 298.34 272.11 298.83 272.20 C299.32 272.28 299.82 272.35 300.32 272.39 C300.81 272.44 301.31 272.46 301.81 272.47 C302.31 272.47 302.81 272.45 303.30 272.41 C303.79 272.37 304.29 272.31 304.78 272.23 C305.26 272.14 305.75 272.04 306.23 271.92 C306.72 271.80 307.20 271.66 307.67 271.50 C308.15 271.35 308.62 271.18 309.09 270.99 C309.55 270.81 310.02 270.60 310.48 270.39 C310.93 270.18 311.39 269.96 311.84 269.72 C312.29 269.49 312.73 269.24 313.17 268.99 C313.61 268.74 314.04 268.48 314.47 268.21 C314.90 267.95 315.32 267.67 315.74 267.40 C316.15 267.12 316.56 266.84 316.97 266.55 C317.37 266.26 317.76 265.97 318.14 265.66 C318.53 265.35 318.90 265.04 319.26 264.70 C319.62 264.37 319.97 264.03 320.30 263.67 C320.64 263.32 320.97 262.95 321.29 262.57 C321.61 262.20 321.92 261.81 322.23 261.42 C322.54 261.03 322.84 260.63 323.14 260.24 C323.45 259.84 323.75 259.44 324.05 259.04 C324.35 258.64 324.64 258.23 324.94 257.83 C325.24 257.43 325.53 257.02 325.82 256.61 C326.12 256.21 326.41 255.80 326.70 255.39 C326.99 254.98 327.28 254.57 327.57 254.16 C327.85 253.75 328.14 253.34 328.43 252.93 C328.71 252.52 328.99 252.11 329.28 251.70 C329.56 251.28 329.84 250.87 330.12 250.46 C330.40 250.04 330.68 249.63 330.96 249.21 C331.23 248.80 331.51 248.38 331.79 247.97 C332.06 247.55 332.34 247.14 332.61 246.72 C332.88 246.30 333.16 245.88 333.43 245.47 C333.70 245.05 333.97 244.63 334.24 244.21 C334.51 243.79 334.78 243.37 335.05 242.95 C335.31 242.53 335.58 242.11 335.85 241.69 C336.11 241.27 336.38 240.85 336.64 240.42 C336.91 240.00 337.17 239.58 337.44 239.16 C337.70 238.73 337.96 238.31 338.23 237.89 C338.49 237.46 338.75 237.04 339.01 236.61 C339.27 236.19 339.53 235.76 339.79 235.34 C340.05 234.91 340.31 234.49 340.57 234.06 C340.83 233.64 341.09 233.21 341.35 232.78 C341.61 232.36 341.86 231.93 342.12 231.50 C342.38 231.08 342.64 230.65 342.89 230.22 C343.15 229.79 343.41 229.37 343.66 228.94 C343.92 228.51 344.18 228.08 344.43 227.65 C344.69 227.22 344.94 226.79 345.20 226.36 C345.46 225.94 345.71 225.51 345.97 225.08 C346.22 224.65 346.48 224.22 346.74 223.79 C346.99 223.36 347.38 222.71 347.50 222.50" fill="none" stroke="#00ff00" stroke-width="1.00" stroke-linejoin="round" clip-path="url(#cu)"/>
<path d="M258.50 222.50 C258.60 222.71 258.90 223.36 259.08 223.79 C259.26 224.23 259.43 224.67 259.59 225.11 C259.76 225.55 259.91 226.00 260.06 226.45 C260.21 226.90 260.36 227.35 260.50 227.81 C260.64 228.26 260.77 228.72 260.91 229.17 C261.04 229.63 261.17 230.09 261.31 230.54 C261.44 231.00 261.58 231.46 261.71 231.91 C261.85 232.37 261.99 232.82 262.14 233.27 C262.28 233.72 262.43 234.17 262.59 234.62 C262.74 235.07 262.91 235.51 263.08 235.95 C263.25 236.39 263.44 236.83 263.63 237.25 C263.82 237.68 264.03 238.11 264.25 238.53 C264.46 238.95 264.70 239.36 264.93 239.77 C265.17 240.18 265.42 240.59 265.66 240.99 C265.91 241.40 266.16 241.80 266.39 242.21 C266.63 242.62 266.87 243.03 267.09 243.45 C267.30 243.87 267.52 244.29 267.70 244.72 C267.89 245.15 268.06 245.59 268.21 246.03 C268.37 246.47 268.50 246.93 268.64 247.38 C268.78 247.83 268.90 248.29 269.04 248.74 C269.18 249.19 269.31 249.65 269.47 250.09 C269.62 250.54 269.79 250.98 269.97 251.41 C270.15 251.85 270.34 252.28 270.54 252.71 C270.74 253.13 270.96 253.55 271.18 253.97 C271.40 254.39 271.63 254.81 271.87 255.22 C272.10 255.63 272.34 256.04 272.59 256.45 C272.83 256.86 273.09 257.26 273.34 257.66 C273.59 258.07 273.85 258.47 274.10 258.87 C274.36 259.27 274.61 259.68 274.87 260.08 C275.12 260.48 275.37 260.88 275.62 261.28 C275.87 261.68 276.11 262.08 276.36 262.49 C276.60 262.89 276.85 263.29 277.09 263.70 C277.33 264.10 277.57 264.50 277.81 264.91 C278.05 265.31 278.29 265.72 278.53 266.12 C278.76 266.53 279.00 266.93 279.24 267.34 C279.48 267.75 279.71 268.15 279.95 268.56 C280.19 268.97 280.43 269.38 280.66 269.79 C280.90 270.20 281.14 270.61 281.38 271.02 C281.63 271.43 281.87 271.84 282.11 272.25 C282.36 272.66 282.60 273.07 282.86 273.48 C283.11 273.89 283.36 274.29 283.62 274.69 C283.88 275.09 284.15 275.49 284.42 275.88 C284.69 276.27 284.97 276.65 285.26 277.03 C285.55 277.40 285.84 277.78 286.14 278.14 C286.45 278.50 286.76 278.85 287.08 279.19 C287.40 279.53 287.73 279.86 288.08 280.18 C288.42 280.50 288.78 280.80 289.14 281.10 C289.51 281.39 289.88 281.67 290.27 281.94 C290.66 282.21 291.05 282.46 291.46 282.70 C291.86 282.94 292.28 283.17 292.70 283.38 C293.12 283.59 293.55 283.78 293.99 283.96 C294.43 284.14 294.87 284.31 295.33 284.45 C295.78 284.60 296.24 284.73 296.70 284.85 C297.17 284.96 297.64 285.06 298.11 285.14 C298.59 285.22 299.07 285.28 299.54 285.32 C300.02 285.37 300.51 285.40 300.99 285.41 C301.47 285.42 301.96 285.42 302.44 285.40 C302.92 285.38 303.40 285.34 303.87 285.28 C304.35 285.23 304.82 285.16 305.29 285.07 C305.75 284.98 306.21 284.88 306.67 284.76 C307.12 284.64 307.57 284.50 308.01 284.34 C308.45 284.19 308.88 284.02 309.30 283.83 C309.72 283.65 310.14 283.45 310.55 283.23 C310.96 283.02 311.36 282.79 311.75 282.55 C312.15 282.31 312.53 282.06 312.92 281.80 C313.30 281.53 313.67 281.26 314.04 280.97 C314.41 280.69 314.77 280.39 315.13 280.08 C315.49 279.78 315.84 279.47 316.19 279.14 C316.53 278.82 316.87 278.49 317.21 278.15 C317.55 277.82 317.88 277.47 318.21 277.12 C318.53 276.78 318.86 276.42 319.18 276.06 C319.50 275.70 319.81 275.34 320.12 274.97 C320.43 274.60 320.74 274.23 321.05 273.86 C321.35 273.49 321.65 273.11 321.95 272.74 C322.25 272.36 322.55 271.99 322.84 271.61 C323.14 271.23 323.43 270.86 323.72 270.48 C324.01 270.10 324.29 269.72 324.58 269.35 C324.87 268.97 325.15 268.59 325.43 268.21 C325.72 267.83 326.00 267.45 326.28 267.07 C326.56 266.70 326.84 266.32 327.11 265.94 C327.39 265.56 327.67 265.18 327.95 264.80 C328.22 264.42 328.50 264.04 328.78 263.66 C329.06 263.28 329.33 262.90 329.61 262.52 C329.89 262.15 330.16 261.77 330.44 261.39 C330.72 261.01 331.00 260.63 331.28 260.25 C331.56 259.88 331.84 259.50 332.12 259.12 C332.40 258.75 332.68 258.37 332.97 257.99 C333.25 257.62 333.53 257.24 333.82 256.86 C334.10 256.49 334.39 256.11 334.67 255.74 C334.96 255.36 335.24 254.99 335.53 254.61 C335.82 254.24 336.11 253.86 336.40 253.49 C336.69 253.11 336.97 252.74 337.26 252.37 C337.55 251.99 337.84 251.62 338.14 251.25 C338.43 250.87 338.72 250.50 339.01 250.13 C339.30 249.76 339.60 249.38 339.89 249.01 C340.18 248.64 340.48 248.27 340.77 247.90 C341.06 247.52 341.36 247.15 341.65 246.78 C341.95 246.41 342.24 246.04 342.54 245.67 C342.84 245.30 343.13 244.93 343.43 244.56 C343.72 244.19 344.02 243.82 344.32 243.45 C344.62 243.08 344.91 242.71 345.21 242.34 C345.51 241.97 345.81 241.60 346.10 241.23 C346.40 240.86 346.70 240.49 347.00 240.12 C347.30 239.75 347.60 239.39 347.90 239.02 C348.19 238.65 348.49 238.28 348.79 237.91 C349.09 237.54 349.39 237.18 349.69 236.81 C349.99 236.44 350.29 236.07 350.59 235.71 C350.89 235.34 351.19 234.97 351.48 234.60 C351.78 234.24 352.08 233.87 352.38 233.50 C352.68 233.13 352.98 232.77 353.28 232.40 C353.58 232.03 353.88 231.67 354.18 231.30 C354.47 230.93 354.77 230.57 355.07 230.20 C355.37 229.84 355.67 229.47 355.97 229.10 C356.26 228.74 356.56 228.37 356.86 228.01 C357.16 227.64 357.45 227.27 357.75 226.91 C358.05 226.54 358.34 226.18 358.64 225.81 C358.94 225.45 359.23 225.08 359.53 224.71 C359.82 224.35 360.12 223.98 360.41 223.62 C360.71 223.25 361.15 222.71 361.30 222.52" fill="none" stroke="#0000ff" stroke-width="1.00" stroke-linejoin="round" clip-path="url(#cu)"/>
<path d="M155.29 222.50 C155.32 222.68 155.37 223.21 155.43 223.56 C155.50 223.91 155.58 224.25 155.68 224.59 C155.78 224.93 155.89 225.26 156.01 225.59 C156.13 225.92 156.26 226.25 156.39 226.57 C156.52 226.90 156.66 227.22 156.80 227.55 C156.93 227.87 157.07 228.19 157.20 228.52 C157.33 228.84 157.47 229.16 157.58 229.49 C157.70 229.82 157.81 230.15 157.91 230.48 C158.01 230.81 158.09 231.14 158.16 231.48 C158.22 231.82 158.27 232.17 158.29 232.52 C158.32 232.87 158.32 233.23 158.33 233.58 C158.33 233.94 158.31 234.30 158.31 234.66 C158.31 235.03 158.30 235.39 158.31 235.75 C158.32 236.11 158.34 236.47 158.39 236.82 C158.44 237.18 158.51 237.53 158.61 237.88 C158.71 238.22 158.85 238.56 159.00 238.88 C159.15 239.20 159.34 239.52 159.54 239.81 C159.73 240.11 159.96 240.39 160.20 240.64 C160.43 240.89 160.69 241.13 160.96 241.33 C161.23 241.54 161.51 241.72 161.80 241.86 C162.10 242.00 162.40 242.12 162.71 242.19 C163.02 242.26 163.34 242.31 163.65 242.30 C163.97 242.29 164.30 242.24 164.62 242.15 C164.94 242.06 165.26 241.91 165.57 241.74 C165.89 241.57 166.20 241.35 166.49 241.13 C166.79 240.91 167.08 240.65 167.35 240.40 C167.62 240.15 167.87 239.88 168.12 239.61 C168.36 239.34 168.59 239.06 168.82 238.78 C169.05 238.50 169.26 238.21 169.48 237.92 C169.69 237.64 169.90 237.35 170.11 237.07 C170.32 236.78 170.53 236.50 170.74 236.22 C170.95 235.94 171.17 235.67 171.38 235.40 C171.60 235.13 171.83 234.87 172.05 234.60 C172.27 234.34 172.50 234.08 172.73 233.82 C172.96 233.57 173.18 233.31 173.41 233.05 C173.64 232.79 173.87 232.53 174.09 232.27 C174.32 232.01 174.54 231.74 174.77 231.48 C174.99 231.21 175.21 230.93 175.42 230.66 C175.64 230.38 175.85 230.10 176.06 229.82 C176.27 229.54 176.48 229.25 176.68 228.96 C176.88 228.67 177.08 228.38 177.27 228.08 C177.47 227.79 177.66 227.49 177.84 227.19 C178.02 226.89 178.20 226.58 178.38 226.28 C178.55 225.97 178.72 225.66 178.89 225.35 C179.05 225.04 179.21 224.73 179.36 224.41 C179.51 224.10 179.66 223.78 179.80 223.46 C179.94 223.14 180.13 222.66 180.20 222.50" fill="none" stroke="#0000ff" stroke-width="1.00" stroke-linejoin="round" clip-path="url(#cu)"/>
<path d="M284.18 222.51 C284.28 222.70 284.57 223.27 284.76 223.65 C284.95 224.03 285.14 224.42 285.33 224.80 C285.52 225.18 285.70 225.57 285.89 225.95 C286.07 226.33 286.25 226.72 286.44 227.10 C286.63 227.48 286.81 227.86 287.00 228.24 C287.19 228.62 287.37 229.00 287.57 229.38 C287.76 229.76 287.95 230.13 288.15 230.51 C288.35 230.88 288.55 231.25 288.76 231.62 C288.96 231.99 289.17 232.36 289.39 232.72 C289.61 233.08 289.83 233.44 290.06 233.79 C290.29 234.15 290.52 234.50 290.77 234.84 C291.01 235.19 291.26 235.53 291.52 235.87 C291.79 236.21 292.05 236.54 292.33 236.86 C292.61 237.19 292.90 237.51 293.20 237.82 C293.50 238.14 293.81 238.45 294.13 238.75 C294.45 239.05 294.78 239.34 295.12 239.62 C295.46 239.90 295.81 240.18 296.17 240.44 C296.52 240.70 296.89 240.95 297.25 241.19 C297.62 241.43 298.00 241.65 298.38 241.86 C298.76 242.07 299.15 242.27 299.54 242.45 C299.93 242.63 300.33 242.79 300.73 242.94 C301.12 243.08 301.53 243.21 301.93 243.31 C302.33 243.42 302.74 243.51 303.15 243.57 C303.55 243.64 303.96 243.68 304.37 243.70 C304.77 243.72 305.18 243.72 305.59 243.70 C305.99 243.67 306.40 243.62 306.80 243.54 C307.20 243.47 307.60 243.37 308.00 243.25 C308.39 243.13 308.79 242.99 309.18 242.83 C309.56 242.68 309.95 242.50 310.33 242.31 C310.71 242.11 311.08 241.90 311.45 241.68 C311.82 241.46 312.18 241.22 312.53 240.97 C312.89 240.72 313.23 240.46 313.57 240.19 C313.91 239.93 314.25 239.64 314.57 239.36 C314.90 239.08 315.22 238.78 315.54 238.49 C315.86 238.19 316.18 237.89 316.49 237.59 C316.80 237.28 317.11 236.98 317.42 236.68 C317.73 236.37 318.04 236.07 318.34 235.77 C318.65 235.47 318.96 235.17 319.26 234.87 C319.56 234.57 319.87 234.27 320.17 233.97 C320.47 233.67 320.77 233.37 321.07 233.07 C321.37 232.77 321.66 232.47 321.96 232.16 C322.25 231.86 322.55 231.56 322.84 231.25 C323.13 230.95 323.42 230.65 323.71 230.34 C324.00 230.03 324.29 229.73 324.57 229.42 C324.86 229.11 325.14 228.79 325.42 228.48 C325.70 228.17 325.98 227.85 326.26 227.53 C326.53 227.21 326.81 226.89 327.08 226.57 C327.35 226.24 327.62 225.92 327.89 225.59 C328.16 225.26 328.42 224.92 328.69 224.59 C328.95 224.25 329.21 223.91 329.47 223.56 C329.72 223.22 330.10 222.69 330.23 222.52" fill="none" stroke="#0000ff" stroke-width="1.70" stroke-linejoin="round" clip-path="url(#cu)"/>
<path d="M68.90 543.39 C69.23 543.32 70.23 543.10 70.90 542.97 C71.57 542.84 72.23 542.72 72.90 542.59 C73.57 542.47 74.23 542.35 74.90 542.23 C75.57 542.11 76.23 541.99 76.90 541.87 C77.57 541.74 78.23 541.61 78.90 541.47 C79.57 541.33 80.23 541.19 80.90 541.03 C81.57 540.87 82.23 540.70 82.90 540.51 C83.57 540.32 84.23 540.12 84.90 539.89 C85.57 539.67 86.23 539.43 86.90 539.17 C87.57 538.92 88.23 538.64 88.90 538.36 C89.57 538.07 90.23 537.78 90.90 537.47 C91.57 537.17 92.23 536.85 92.90 536.53 C93.57 536.21 94.23 535.89 94.90 535.56 C95.57 535.23 96.23 534.90 96.90 534.57 C97.57 534.23 98.23 533.90 98.90 533.57 C99.57 533.23 100.23 532.90 100.90 532.57 C101.57 532.24 102.23 531.91 102.90 531.58 C103.57 531.26 104.23 530.93 104.90 530.62 C105.57 530.31 106.23 530.00 106.90 529.70 C107.57 529.39 108.23 529.10 108.90 528.82 C109.57 528.53 110.23 528.26 110.90 528.00 C111.57 527.74 112.23 527.48 112.90 527.25 C113.57 527.01 114.23 526.78 114.90 526.58 C115.57 526.37 116.23 526.18 116.90 526.00 C117.57 525.82 118.23 525.66 118.90 525.50 C119.57 525.35 120.23 525.22 120.90 525.09 C121.57 524.96 122.23 524.84 122.90 524.73 C123.57 524.62 124.23 524.51 124.90 524.42 C125.57 524.32 126.23 524.23 126.90 524.14 C127.57 524.05 128.23 523.96 128.90 523.87 C129.57 523.79 130.23 523.70 130.90 523.62 C131.57 523.53 132.23 523.44 132.90 523.35 C133.57 523.26 134.23 523.16 134.90 523.06 C135.57 522.95 136.23 522.85 136.90 522.73 C137.57 522.61 138.23 522.49 138.90 522.35 C139.57 522.21 140.23 522.07 140.90 521.91 C141.57 521.75 142.23 521.58 142.90 521.41 C143.57 521.23 144.23 521.04 144.90 520.84 C145.57 520.63 146.23 520.42 146.90 520.20 C147.57 519.98 148.23 519.74 148.90 519.49 C149.57 519.25 150.23 518.99 150.90 518.72 C151.57 518.45 152.23 518.16 152.90 517.87 C153.57 517.57 154.23 517.26 154.90 516.95 C155.57 516.63 156.23 516.29 156.90 515.95 C157.57 515.61 158.23 515.25 158.90 514.90 C159.57 514.54 160.23 514.17 160.90 513.81 C161.57 513.44 162.23 513.07 162.90 512.70 C163.57 512.33 164.23 511.95 164.90 511.58 C165.57 511.22 166.23 510.85 166.90 510.49 C167.57 510.14 168.23 509.78 168.90 509.44 C169.57 509.10 170.23 508.76 170.90 508.44 C171.57 508.12 172.23 507.81 172.90 507.52 C173.57 507.23 174.23 506.96 174.90 506.70 C175.57 506.44 176.23 506.20 176.90 505.99 C177.57 505.78 178.23 505.58 178.90 505.41 C179.57 505.25 180.23 505.11 180.90 504.99 C181.57 504.87 182.23 504.79 182.90 504.72 C183.57 504.65 184.23 504.61 184.90 504.58 C185.57 504.56 186.23 504.56 186.90 504.57 C187.57 504.59 188.23 504.62 188.90 504.67 C189.57 504.72 190.23 504.79 190.90 504.87 C191.57 504.95 192.23 505.04 192.90 505.15 C193.57 505.25 194.23 505.37 194.90 505.49 C195.57 505.62 196.23 505.75 196.90 505.90 C197.57 506.04 198.23 506.19 198.90 506.34 C199.57 506.49 200.23 506.65 200.90 506.81 C201.57 506.97 202.23 507.14 202.90 507.31 C203.57 507.47 204.23 507.64 204.90 507.81 C205.57 507.98 206.23 508.15 206.90 508.32 C207.57 508.48 208.23 508.65 208.90 508.81 C209.57 508.97 210.23 509.13 210.90 509.29 C211.57 509.44 212.23 509.59 212.90 509.73 C213.57 509.88 214.23 510.01 214.90 510.14 C215.57 510.26 216.23 510.38 216.90 510.49 C217.57 510.60 218.23 510.70 218.90 510.79 C219.57 510.87 220.23 510.95 220.90 511.01 C221.57 511.07 222.23 511.11 222.90 511.15 C223.57 511.18 224.23 511.20 224.90 511.21 C225.57 511.22 226.23 511.21 226.90 511.19 C227.57 511.17 228.23 511.14 228.90 511.10 C229.57 511.05 230.23 511.00 230.90 510.93 C231.57 510.86 232.23 510.78 232.90 510.69 C233.57 510.60 234.23 510.49 234.90 510.38 C235.57 510.26 236.23 510.13 236.90 510.00 C237.57 509.86 238.23 509.71 238.90 509.55 C239.57 509.39 240.23 509.22 240.90 509.04 C241.57 508.86 242.23 508.67 242.90 508.47 C243.57 508.27 244.23 508.06 244.90 507.85 C245.57 507.63 246.23 507.41 246.90 507.17 C247.57 506.94 248.23 506.70 248.90 506.46 C249.57 506.22 250.23 505.96 250.90 505.71 C251.57 505.45 252.23 505.19 252.90 504.92 C253.57 504.65 254.23 504.38 254.90 504.10 C255.57 503.83 256.23 503.54 256.90 503.26 C257.57 502.98 258.23 502.69 258.90 502.40 C259.57 502.11 260.23 501.82 260.90 501.53 C261.57 501.25 262.23 500.96 262.90 500.68 C263.57 500.39 264.23 500.12 264.90 499.85 C265.57 499.58 266.23 499.32 266.90 499.07 C267.57 498.83 268.23 498.59 268.90 498.37 C269.57 498.15 270.23 497.94 270.90 497.75 C271.57 497.57 272.23 497.40 272.90 497.25 C273.57 497.11 274.23 496.98 274.90 496.88 C275.57 496.78 276.23 496.71 276.90 496.65 C277.57 496.59 278.23 496.55 278.90 496.52 C279.57 496.49 280.23 496.48 280.90 496.47 C281.57 496.45 282.23 496.45 282.90 496.44 C283.57 496.43 284.23 496.42 284.90 496.41 C285.57 496.40 286.23 496.39 286.90 496.39 C287.57 496.39 288.23 496.39 288.90 496.41 C289.57 496.42 290.23 496.44 290.90 496.47 C291.57 496.51 292.23 496.55 292.90 496.62 C293.57 496.68 294.23 496.76 294.90 496.86 C295.57 496.96 296.23 497.07 296.90 497.22 C297.57 497.36 298.23 497.52 298.90 497.72 C299.57 497.91 300.23 498.13 300.90 498.38 C301.57 498.62 302.23 498.90 302.90 499.20 C303.57 499.49 304.23 499.81 304.90 500.15 C305.57 500.49 306.23 500.85 306.90 501.23 C307.57 501.60 308.23 502.00 308.90 502.40 C309.57 502.81 310.23 503.23 310.90 503.67 C311.57 504.10 312.23 504.55 312.90 505.01 C313.57 505.47 314.23 505.95 314.90 506.43 C315.57 506.91 316.23 507.40 316.90 507.91 C317.57 508.41 318.23 508.92 318.90 509.43 C319.57 509.95 320.23 510.47 320.90 511.00 C321.57 511.53 322.23 512.07 322.90 512.61 C323.57 513.15 324.23 513.69 324.90 514.24 C325.57 514.79 326.23 515.35 326.90 515.91 C327.57 516.47 328.23 517.03 328.90 517.60 C329.57 518.17 330.23 518.74 330.90 519.32 C331.57 519.90 332.23 520.48 332.90 521.07 C333.57 521.65 334.23 522.24 334.90 522.84 C335.57 523.43 336.23 524.03 336.90 524.63 C337.57 525.23 338.23 525.84 338.90 526.45 C339.57 527.05 340.23 527.66 340.90 528.25 C341.57 528.85 342.23 529.45 342.90 530.03 C343.57 530.60 344.23 531.18 344.90 531.73 C345.57 532.28 346.23 532.82 346.90 533.33 C347.57 533.84 348.23 534.33 348.90 534.79 C349.57 535.25 350.23 535.69 350.90 536.10 C351.57 536.51 352.23 536.89 352.90 537.25 C353.57 537.61 354.23 537.94 354.90 538.25 C355.57 538.56 356.23 538.85 356.90 539.12 C357.57 539.39 358.23 539.64 358.90 539.87 C359.57 540.11 360.23 540.32 360.90 540.52 C361.57 540.71 362.23 540.89 362.90 541.06 C363.57 541.22 364.23 541.37 364.90 541.51 C365.57 541.65 366.23 541.78 366.90 541.90 C367.57 542.01 368.23 542.12 368.90 542.21 C369.57 542.31 370.23 542.40 370.90 542.48 C371.57 542.56 372.23 542.63 372.90 542.70 C373.57 542.77 374.23 542.84 374.90 542.90 C375.57 542.96 376.23 543.02 376.90 543.08 C377.57 543.13 378.23 543.19 378.90 543.25 C379.57 543.31 380.57 543.39 380.90 543.42" fill="none" stroke="#ff00ff" stroke-width="1.00" stroke-linejoin="round" clip-path="url(#cl)"/>
<path d="M68.90 520.99 C69.23 520.90 70.23 520.63 70.90 520.45 C71.57 520.28 72.23 520.11 72.90 519.94 C73.57 519.77 74.23 519.60 74.90 519.43 C75.57 519.26 76.23 519.09 76.90 518.91 C77.57 518.74 78.23 518.56 78.90 518.37 C79.57 518.19 80.23 518.00 80.90 517.79 C81.57 517.59 82.23 517.38 82.90 517.15 C83.57 516.93 84.23 516.69 84.90 516.44 C85.57 516.19 86.23 515.92 86.90 515.65 C87.57 515.37 88.23 515.09 88.90 514.81 C89.57 514.53 90.23 514.24 90.90 513.96 C91.57 513.68 92.23 513.41 92.90 513.15 C93.57 512.89 94.23 512.64 94.90 512.40 C95.57 512.17 96.23 511.94 96.90 511.73 C97.57 511.52 98.23 511.32 98.90 511.13 C99.57 510.95 100.23 510.77 100.90 510.61 C101.57 510.45 102.23 510.30 102.90 510.16 C103.57 510.02 104.23 509.89 104.90 509.78 C105.57 509.67 106.23 509.56 106.90 509.47 C107.57 509.38 108.23 509.30 108.90 509.24 C109.57 509.17 110.23 509.12 110.90 509.07 C111.57 509.03 112.23 509.00 112.90 508.98 C113.57 508.96 114.23 508.95 114.90 508.95 C115.57 508.96 116.23 508.97 116.90 509.00 C117.57 509.02 118.23 509.06 118.90 509.10 C119.57 509.15 120.23 509.20 120.90 509.25 C121.57 509.31 122.23 509.37 122.90 509.43 C123.57 509.49 124.23 509.56 124.90 509.62 C125.57 509.68 126.23 509.75 126.90 509.81 C127.57 509.87 128.23 509.93 128.90 509.98 C129.57 510.03 130.23 510.07 130.90 510.11 C131.57 510.15 132.23 510.18 132.90 510.20 C133.57 510.21 134.23 510.22 134.90 510.22 C135.57 510.21 136.23 510.19 136.90 510.16 C137.57 510.12 138.23 510.07 138.90 510.00 C139.57 509.93 140.23 509.84 140.90 509.74 C141.57 509.63 142.23 509.51 142.90 509.37 C143.57 509.24 144.23 509.08 144.90 508.92 C145.57 508.75 146.23 508.57 146.90 508.37 C147.57 508.17 148.23 507.96 148.90 507.74 C149.57 507.52 150.23 507.28 150.90 507.04 C151.57 506.79 152.23 506.53 152.90 506.27 C153.57 506.00 154.23 505.72 154.90 505.43 C155.57 505.14 156.23 504.84 156.90 504.54 C157.57 504.23 158.23 503.91 158.90 503.59 C159.57 503.27 160.23 502.95 160.90 502.61 C161.57 502.28 162.23 501.94 162.90 501.61 C163.57 501.27 164.23 500.92 164.90 500.58 C165.57 500.23 166.23 499.88 166.90 499.54 C167.57 499.19 168.23 498.84 168.90 498.50 C169.57 498.15 170.23 497.80 170.90 497.46 C171.57 497.12 172.23 496.78 172.90 496.45 C173.57 496.11 174.23 495.78 174.90 495.46 C175.57 495.14 176.23 494.82 176.90 494.51 C177.57 494.20 178.23 493.89 178.90 493.60 C179.57 493.31 180.23 493.02 180.90 492.75 C181.57 492.48 182.23 492.21 182.90 491.97 C183.57 491.72 184.23 491.49 184.90 491.28 C185.57 491.07 186.23 490.87 186.90 490.70 C187.57 490.52 188.23 490.37 188.90 490.24 C189.57 490.11 190.23 490.01 190.90 489.92 C191.57 489.84 192.23 489.77 192.90 489.73 C193.57 489.68 194.23 489.65 194.90 489.64 C195.57 489.62 196.23 489.63 196.90 489.65 C197.57 489.66 198.23 489.70 198.90 489.74 C199.57 489.78 200.23 489.84 200.90 489.91 C201.57 489.97 202.23 490.05 202.90 490.13 C203.57 490.21 204.23 490.30 204.90 490.40 C205.57 490.49 206.23 490.59 206.90 490.70 C207.57 490.80 208.23 490.91 208.90 491.01 C209.57 491.12 210.23 491.23 210.90 491.34 C211.57 491.44 212.23 491.55 212.90 491.65 C213.57 491.75 214.23 491.85 214.90 491.94 C215.57 492.03 216.23 492.12 216.90 492.19 C217.57 492.27 218.23 492.34 218.90 492.40 C219.57 492.46 220.23 492.51 220.90 492.54 C221.57 492.58 222.23 492.60 222.90 492.61 C223.57 492.63 224.23 492.62 224.90 492.61 C225.57 492.60 226.23 492.58 226.90 492.55 C227.57 492.52 228.23 492.47 228.90 492.42 C229.57 492.37 230.23 492.31 230.90 492.24 C231.57 492.17 232.23 492.09 232.90 492.01 C233.57 491.93 234.23 491.83 234.90 491.74 C235.57 491.64 236.23 491.53 236.90 491.43 C237.57 491.32 238.23 491.20 238.90 491.08 C239.57 490.96 240.23 490.84 240.90 490.71 C241.57 490.58 242.23 490.45 242.90 490.32 C243.57 490.18 244.23 490.05 244.90 489.91 C245.57 489.77 246.23 489.63 246.90 489.48 C247.57 489.34 248.23 489.20 248.90 489.05 C249.57 488.91 250.23 488.76 250.90 488.62 C251.57 488.47 252.23 488.33 252.90 488.19 C253.57 488.04 254.23 487.90 254.90 487.76 C255.57 487.62 256.23 487.48 256.90 487.35 C257.57 487.21 258.23 487.08 258.90 486.95 C259.57 486.82 260.23 486.70 260.90 486.58 C261.57 486.46 262.23 486.34 262.90 486.23 C263.57 486.11 264.23 486.00 264.90 485.90 C265.57 485.79 266.23 485.69 266.90 485.60 C267.57 485.50 268.23 485.41 268.90 485.32 C269.57 485.24 270.23 485.16 270.90 485.08 C271.57 485.01 272.23 484.94 272.90 484.87 C273.57 484.81 274.23 484.75 274.90 484.70 C275.57 484.65 276.23 484.60 276.90 484.56 C277.57 484.52 278.23 484.49 278.90 484.46 C279.57 484.43 280.23 484.41 280.90 484.40 C281.57 484.39 282.23 484.38 282.90 484.38 C283.57 484.38 284.23 484.39 284.90 484.41 C285.57 484.43 286.23 484.45 286.90 484.48 C287.57 484.52 288.23 484.56 288.90 484.62 C289.57 484.67 290.23 484.73 290.90 484.81 C291.57 484.88 292.23 484.96 292.90 485.06 C293.57 485.16 294.23 485.26 294.90 485.39 C295.57 485.51 296.23 485.64 296.90 485.79 C297.57 485.93 298.23 486.09 298.90 486.27 C299.57 486.44 300.23 486.63 300.90 486.83 C301.57 487.03 302.23 487.25 302.90 487.49 C303.57 487.72 304.23 487.97 304.90 488.24 C305.57 488.50 306.23 488.79 306.90 489.09 C307.57 489.39 308.23 489.71 308.90 490.05 C309.57 490.38 310.23 490.73 310.90 491.09 C311.57 491.45 312.23 491.82 312.90 492.19 C313.57 492.55 314.23 492.93 314.90 493.30 C315.57 493.67 316.23 494.04 316.90 494.40 C317.57 494.77 318.23 495.13 318.90 495.50 C319.57 495.87 320.23 496.24 320.90 496.64 C321.57 497.04 322.23 497.45 322.90 497.88 C323.57 498.30 324.23 498.75 324.90 499.20 C325.57 499.66 326.23 500.12 326.90 500.60 C327.57 501.07 328.23 501.56 328.90 502.05 C329.57 502.54 330.23 503.03 330.90 503.53 C331.57 504.03 332.23 504.53 332.90 505.03 C333.57 505.53 334.23 506.04 334.90 506.54 C335.57 507.03 336.23 507.53 336.90 508.02 C337.57 508.51 338.23 508.99 338.90 509.46 C339.57 509.93 340.23 510.40 340.90 510.84 C341.57 511.28 342.23 511.71 342.90 512.12 C343.57 512.52 344.23 512.90 344.90 513.27 C345.57 513.63 346.23 513.97 346.90 514.29 C347.57 514.62 348.23 514.93 348.90 515.22 C349.57 515.52 350.23 515.80 350.90 516.08 C351.57 516.35 352.23 516.61 352.90 516.85 C353.57 517.10 354.23 517.34 354.90 517.56 C355.57 517.78 356.23 517.99 356.90 518.19 C357.57 518.39 358.23 518.57 358.90 518.75 C359.57 518.92 360.23 519.08 360.90 519.23 C361.57 519.38 362.23 519.52 362.90 519.65 C363.57 519.78 364.23 519.90 364.90 520.02 C365.57 520.14 366.23 520.25 366.90 520.36 C367.57 520.47 368.23 520.57 368.90 520.67 C369.57 520.77 370.23 520.86 370.90 520.95 C371.57 521.03 372.23 521.11 372.90 521.18 C373.57 521.25 374.23 521.31 374.90 521.37 C375.57 521.42 376.23 521.46 376.90 521.49 C377.57 521.51 378.23 521.53 378.90 521.53 C379.57 521.54 380.57 521.51 380.90 521.50" fill="none" stroke="#ff0000" stroke-width="1.00" stroke-linejoin="round" clip-path="url(#cl)"/>
<path d="M68.90 513.10 C69.23 513.07 70.23 513.01 70.90 512.95 C71.57 512.88 72.23 512.80 72.90 512.70 C73.57 512.60 74.23 512.48 74.90 512.35 C75.57 512.21 76.23 512.06 76.90 511.89 C77.57 511.72 78.23 511.53 78.90 511.32 C79.57 511.11 80.23 510.88 80.90 510.63 C81.57 510.37 82.23 510.10 82.90 509.80 C83.57 509.50 84.23 509.18 84.90 508.84 C85.57 508.49 86.23 508.12 86.90 507.74 C87.57 507.36 88.23 506.96 88.90 506.57 C89.57 506.18 90.23 505.77 90.90 505.39 C91.57 505.00 92.23 504.61 92.90 504.25 C93.57 503.89 94.23 503.54 94.90 503.22 C95.57 502.89 96.23 502.59 96.90 502.30 C97.57 502.01 98.23 501.75 98.90 501.50 C99.57 501.26 100.23 501.03 100.90 500.83 C101.57 500.63 102.23 500.44 102.90 500.28 C103.57 500.12 104.23 499.98 104.90 499.86 C105.57 499.75 106.23 499.65 106.90 499.58 C107.57 499.51 108.23 499.46 108.90 499.43 C109.57 499.40 110.23 499.40 110.90 499.42 C111.57 499.43 112.23 499.47 112.90 499.52 C113.57 499.56 114.23 499.63 114.90 499.69 C115.57 499.76 116.23 499.84 116.90 499.91 C117.57 499.99 118.23 500.07 118.90 500.14 C119.57 500.21 120.23 500.29 120.90 500.36 C121.57 500.43 122.23 500.49 122.90 500.56 C123.57 500.62 124.23 500.68 124.90 500.74 C125.57 500.79 126.23 500.85 126.90 500.89 C127.57 500.94 128.23 500.98 128.90 501.02 C129.57 501.06 130.23 501.09 130.90 501.12 C131.57 501.14 132.23 501.16 132.90 501.17 C133.57 501.19 134.23 501.19 134.90 501.19 C135.57 501.19 136.23 501.18 136.90 501.16 C137.57 501.15 138.23 501.12 138.90 501.09 C139.57 501.05 140.23 501.01 140.90 500.95 C141.57 500.90 142.23 500.84 142.90 500.76 C143.57 500.69 144.23 500.61 144.90 500.51 C145.57 500.41 146.23 500.31 146.90 500.18 C147.57 500.06 148.23 499.92 148.90 499.77 C149.57 499.61 150.23 499.44 150.90 499.25 C151.57 499.06 152.23 498.86 152.90 498.64 C153.57 498.42 154.23 498.18 154.90 497.94 C155.57 497.70 156.23 497.44 156.90 497.19 C157.57 496.93 158.23 496.67 158.90 496.40 C159.57 496.13 160.23 495.86 160.90 495.58 C161.57 495.31 162.23 495.03 162.90 494.75 C163.57 494.47 164.23 494.18 164.90 493.89 C165.57 493.61 166.23 493.32 166.90 493.03 C167.57 492.74 168.23 492.45 168.90 492.16 C169.57 491.87 170.23 491.57 170.90 491.28 C171.57 490.99 172.23 490.70 172.90 490.41 C173.57 490.12 174.23 489.83 174.90 489.54 C175.57 489.25 176.23 488.97 176.90 488.69 C177.57 488.40 178.23 488.12 178.90 487.85 C179.57 487.57 180.23 487.30 180.90 487.03 C181.57 486.76 182.23 486.50 182.90 486.24 C183.57 485.99 184.23 485.73 184.90 485.49 C185.57 485.26 186.23 485.02 186.90 484.80 C187.57 484.58 188.23 484.37 188.90 484.17 C189.57 483.98 190.23 483.79 190.90 483.62 C191.57 483.45 192.23 483.30 192.90 483.16 C193.57 483.02 194.23 482.90 194.90 482.79 C195.57 482.69 196.23 482.61 196.90 482.54 C197.57 482.48 198.23 482.43 198.90 482.40 C199.57 482.37 200.23 482.36 200.90 482.36 C201.57 482.36 202.23 482.38 202.90 482.40 C203.57 482.43 204.23 482.47 204.90 482.51 C205.57 482.56 206.23 482.62 206.90 482.68 C207.57 482.74 208.23 482.81 208.90 482.89 C209.57 482.96 210.23 483.04 210.90 483.12 C211.57 483.20 212.23 483.28 212.90 483.36 C213.57 483.44 214.23 483.52 214.90 483.59 C215.57 483.67 216.23 483.74 216.90 483.81 C217.57 483.87 218.23 483.93 218.90 483.99 C219.57 484.04 220.23 484.08 220.90 484.12 C221.57 484.15 222.23 484.17 222.90 484.19 C223.57 484.20 224.23 484.20 224.90 484.20 C225.57 484.19 226.23 484.17 226.90 484.15 C227.57 484.13 228.23 484.10 228.90 484.06 C229.57 484.02 230.23 483.97 230.90 483.92 C231.57 483.87 232.23 483.81 232.90 483.75 C233.57 483.69 234.23 483.62 234.90 483.55 C235.57 483.48 236.23 483.40 236.90 483.32 C237.57 483.24 238.23 483.16 238.90 483.08 C239.57 482.99 240.23 482.90 240.90 482.81 C241.57 482.72 242.23 482.63 242.90 482.53 C243.57 482.44 244.23 482.34 244.90 482.23 C245.57 482.13 246.23 482.03 246.90 481.92 C247.57 481.81 248.23 481.70 248.90 481.58 C249.57 481.47 250.23 481.35 250.90 481.23 C251.57 481.11 252.23 480.99 252.90 480.86 C253.57 480.73 254.23 480.60 254.90 480.47 C255.57 480.34 256.23 480.20 256.90 480.06 C257.57 479.92 258.23 479.78 258.90 479.63 C259.57 479.49 260.23 479.34 260.90 479.20 C261.57 479.06 262.23 478.92 262.90 478.79 C263.57 478.67 264.23 478.55 264.90 478.45 C265.57 478.35 266.23 478.26 266.90 478.20 C267.57 478.13 268.23 478.09 268.90 478.06 C269.57 478.02 270.23 478.01 270.90 478.00 C271.57 477.98 272.23 477.98 272.90 477.97 C273.57 477.96 274.23 477.95 274.90 477.94 C275.57 477.93 276.23 477.90 276.90 477.88 C277.57 477.86 278.23 477.84 278.90 477.82 C279.57 477.80 280.23 477.78 280.90 477.77 C281.57 477.77 282.23 477.76 282.90 477.77 C283.57 477.78 284.23 477.80 284.90 477.84 C285.57 477.87 286.23 477.92 286.90 477.97 C287.57 478.03 288.23 478.10 288.90 478.18 C289.57 478.26 290.23 478.35 290.90 478.45 C291.57 478.55 292.23 478.67 292.90 478.79 C293.57 478.92 294.23 479.05 294.90 479.20 C295.57 479.34 296.23 479.50 296.90 479.67 C297.57 479.83 298.23 480.01 298.90 480.20 C299.57 480.38 300.23 480.58 300.90 480.79 C301.57 481.00 302.23 481.21 302.90 481.44 C303.57 481.67 304.23 481.90 304.90 482.15 C305.57 482.39 306.23 482.65 306.90 482.91 C307.57 483.18 308.23 483.45 308.90 483.74 C309.57 484.02 310.23 484.31 310.90 484.61 C311.57 484.91 312.23 485.22 312.90 485.54 C313.57 485.85 314.23 486.18 314.90 486.51 C315.57 486.85 316.23 487.19 316.90 487.54 C317.57 487.89 318.23 488.25 318.90 488.62 C319.57 488.98 320.23 489.36 320.90 489.74 C321.57 490.12 322.23 490.51 322.90 490.90 C323.57 491.30 324.23 491.70 324.90 492.11 C325.57 492.51 326.23 492.93 326.90 493.34 C327.57 493.76 328.23 494.18 328.90 494.60 C329.57 495.02 330.23 495.44 330.90 495.87 C331.57 496.29 332.23 496.72 332.90 497.15 C333.57 497.58 334.23 498.02 334.90 498.47 C335.57 498.92 336.23 499.37 336.90 499.85 C337.57 500.33 338.23 500.84 338.90 501.33 C339.57 501.82 340.23 502.34 340.90 502.82 C341.57 503.29 342.23 503.76 342.90 504.18 C343.57 504.60 344.23 504.96 344.90 505.32 C345.57 505.67 346.23 505.98 346.90 506.31 C347.57 506.64 348.23 506.96 348.90 507.31 C349.57 507.66 350.23 508.04 350.90 508.41 C351.57 508.77 352.23 509.16 352.90 509.50 C353.57 509.84 354.23 510.16 354.90 510.43 C355.57 510.70 356.23 510.91 356.90 511.10 C357.57 511.29 358.23 511.44 358.90 511.58 C359.57 511.72 360.23 511.83 360.90 511.94 C361.57 512.06 362.23 512.17 362.90 512.26 C363.57 512.36 364.23 512.45 364.90 512.53 C365.57 512.61 366.23 512.68 366.90 512.74 C367.57 512.80 368.23 512.85 368.90 512.89 C369.57 512.93 370.23 512.96 370.90 512.98 C371.57 513.00 372.23 513.02 372.90 513.02 C373.57 513.03 374.23 513.03 374.90 513.03 C375.57 513.03 376.23 513.02 376.90 513.01 C377.57 513.00 378.23 512.98 378.90 512.96 C379.57 512.94 380.57 512.91 380.90 512.90" fill="none" stroke="#ff00ff" stroke-width="1.70" stroke-linejoin="round" clip-path="url(#cl)"/>
<path d="M68.90 490.72 C69.23 490.59 70.23 490.21 70.90 489.95 C71.57 489.70 72.23 489.43 72.90 489.17 C73.57 488.91 74.23 488.64 74.90 488.38 C75.57 488.11 76.23 487.85 76.90 487.59 C77.57 487.33 78.23 487.07 78.90 486.82 C79.57 486.57 80.23 486.32 80.90 486.08 C81.57 485.83 82.23 485.60 82.90 485.37 C83.57 485.14 84.23 484.92 84.90 484.71 C85.57 484.50 86.23 484.30 86.90 484.12 C87.57 483.93 88.23 483.75 88.90 483.59 C89.57 483.43 90.23 483.28 90.90 483.14 C91.57 483.01 92.23 482.89 92.90 482.79 C93.57 482.69 94.23 482.61 94.90 482.54 C95.57 482.47 96.23 482.42 96.90 482.39 C97.57 482.35 98.23 482.33 98.90 482.32 C99.57 482.31 100.23 482.31 100.90 482.33 C101.57 482.34 102.23 482.37 102.90 482.41 C103.57 482.44 104.23 482.49 104.90 482.55 C105.57 482.60 106.23 482.67 106.90 482.74 C107.57 482.81 108.23 482.89 108.90 482.97 C109.57 483.05 110.23 483.14 110.90 483.24 C111.57 483.33 112.23 483.43 112.90 483.53 C113.57 483.63 114.23 483.73 114.90 483.83 C115.57 483.94 116.23 484.04 116.90 484.14 C117.57 484.25 118.23 484.35 118.90 484.46 C119.57 484.56 120.23 484.66 120.90 484.76 C121.57 484.85 122.23 484.95 122.90 485.04 C123.57 485.13 124.23 485.22 124.90 485.31 C125.57 485.39 126.23 485.47 126.90 485.54 C127.57 485.62 128.23 485.68 128.90 485.75 C129.57 485.81 130.23 485.86 130.90 485.91 C131.57 485.96 132.23 486.00 132.90 486.03 C133.57 486.06 134.23 486.08 134.90 486.10 C135.57 486.11 136.23 486.12 136.90 486.11 C137.57 486.10 138.23 486.09 138.90 486.06 C139.57 486.03 140.23 485.99 140.90 485.94 C141.57 485.89 142.23 485.82 142.90 485.74 C143.57 485.67 144.23 485.57 144.90 485.47 C145.57 485.37 146.23 485.25 146.90 485.13 C147.57 485.00 148.23 484.86 148.90 484.72 C149.57 484.57 150.23 484.42 150.90 484.25 C151.57 484.09 152.23 483.91 152.90 483.73 C153.57 483.55 154.23 483.36 154.90 483.17 C155.57 482.97 156.23 482.77 156.90 482.56 C157.57 482.36 158.23 482.15 158.90 481.93 C159.57 481.71 160.23 481.49 160.90 481.26 C161.57 481.04 162.23 480.81 162.90 480.57 C163.57 480.34 164.23 480.10 164.90 479.86 C165.57 479.62 166.23 479.37 166.90 479.13 C167.57 478.88 168.23 478.63 168.90 478.38 C169.57 478.12 170.23 477.87 170.90 477.61 C171.57 477.36 172.23 477.10 172.90 476.84 C173.57 476.58 174.23 476.32 174.90 476.05 C175.57 475.79 176.23 475.53 176.90 475.27 C177.57 475.00 178.23 474.74 178.90 474.48 C179.57 474.21 180.23 473.95 180.90 473.69 C181.57 473.43 182.23 473.16 182.90 472.91 C183.57 472.65 184.23 472.39 184.90 472.14 C185.57 471.89 186.23 471.64 186.90 471.40 C187.57 471.16 188.23 470.93 188.90 470.70 C189.57 470.47 190.23 470.25 190.90 470.04 C191.57 469.83 192.23 469.63 192.90 469.44 C193.57 469.25 194.23 469.06 194.90 468.89 C195.57 468.73 196.23 468.57 196.90 468.42 C197.57 468.28 198.23 468.15 198.90 468.03 C199.57 467.90 200.23 467.80 200.90 467.70 C201.57 467.60 202.23 467.51 202.90 467.43 C203.57 467.35 204.23 467.28 204.90 467.22 C205.57 467.16 206.23 467.11 206.90 467.07 C207.57 467.02 208.23 466.99 208.90 466.96 C209.57 466.92 210.23 466.90 210.90 466.88 C211.57 466.86 212.23 466.85 212.90 466.84 C213.57 466.83 214.23 466.83 214.90 466.83 C215.57 466.83 216.23 466.83 216.90 466.83 C217.57 466.84 218.23 466.85 218.90 466.86 C219.57 466.86 220.23 466.87 220.90 466.88 C221.57 466.90 222.23 466.91 222.90 466.92 C223.57 466.93 224.23 466.94 224.90 466.95 C225.57 466.95 226.23 466.96 226.90 466.96 C227.57 466.97 228.23 466.97 228.90 466.97 C229.57 466.96 230.23 466.96 230.90 466.95 C231.57 466.94 232.23 466.92 232.90 466.90 C233.57 466.88 234.23 466.85 234.90 466.82 C235.57 466.79 236.23 466.75 236.90 466.70 C237.57 466.65 238.23 466.59 238.90 466.53 C239.57 466.47 240.23 466.40 240.90 466.32 C241.57 466.25 242.23 466.17 242.90 466.08 C243.57 466.00 244.23 465.91 244.90 465.82 C245.57 465.73 246.23 465.63 246.90 465.54 C247.57 465.45 248.23 465.35 248.90 465.26 C249.57 465.16 250.23 465.07 250.90 464.98 C251.57 464.89 252.23 464.79 252.90 464.71 C253.57 464.62 254.23 464.54 254.90 464.47 C255.57 464.39 256.23 464.32 256.90 464.25 C257.57 464.19 258.23 464.13 258.90 464.08 C259.57 464.03 260.23 463.99 260.90 463.95 C261.57 463.91 262.23 463.88 262.90 463.86 C263.57 463.83 264.23 463.81 264.90 463.80 C265.57 463.78 266.23 463.77 266.90 463.76 C267.57 463.76 268.23 463.75 268.90 463.75 C269.57 463.75 270.23 463.75 270.90 463.75 C271.57 463.75 272.23 463.75 272.90 463.76 C273.57 463.76 274.23 463.76 274.90 463.77 C275.57 463.77 276.23 463.77 276.90 463.77 C277.57 463.78 278.23 463.78 278.90 463.79 C279.57 463.80 280.23 463.82 280.90 463.84 C281.57 463.86 282.23 463.89 282.90 463.92 C283.57 463.96 284.23 464.00 284.90 464.06 C285.57 464.11 286.23 464.18 286.90 464.25 C287.57 464.32 288.23 464.40 288.90 464.49 C289.57 464.58 290.23 464.68 290.90 464.78 C291.57 464.89 292.23 465.01 292.90 465.13 C293.57 465.25 294.23 465.39 294.90 465.53 C295.57 465.67 296.23 465.82 296.90 465.97 C297.57 466.13 298.23 466.29 298.90 466.47 C299.57 466.64 300.23 466.82 300.90 467.01 C301.57 467.20 302.23 467.40 302.90 467.60 C303.57 467.81 304.23 468.02 304.90 468.24 C305.57 468.46 306.23 468.69 306.90 468.92 C307.57 469.16 308.23 469.40 308.90 469.65 C309.57 469.90 310.23 470.16 310.90 470.43 C311.57 470.69 312.23 470.96 312.90 471.24 C313.57 471.52 314.23 471.81 314.90 472.10 C315.57 472.40 316.23 472.70 316.90 473.01 C317.57 473.31 318.23 473.63 318.90 473.95 C319.57 474.27 320.23 474.60 320.90 474.94 C321.57 475.27 322.23 475.61 322.90 475.96 C323.57 476.30 324.23 476.66 324.90 477.01 C325.57 477.36 326.23 477.72 326.90 478.07 C327.57 478.43 328.23 478.79 328.90 479.14 C329.57 479.50 330.23 479.85 330.90 480.20 C331.57 480.55 332.23 480.89 332.90 481.23 C333.57 481.57 334.23 481.90 334.90 482.23 C335.57 482.55 336.23 482.87 336.90 483.17 C337.57 483.48 338.23 483.77 338.90 484.05 C339.57 484.34 340.23 484.61 340.90 484.87 C341.57 485.14 342.23 485.39 342.90 485.63 C343.57 485.88 344.23 486.11 344.90 486.34 C345.57 486.56 346.23 486.78 346.90 486.99 C347.57 487.20 348.23 487.40 348.90 487.59 C349.57 487.78 350.23 487.97 350.90 488.14 C351.57 488.32 352.23 488.49 352.90 488.65 C353.57 488.81 354.23 488.97 354.90 489.11 C355.57 489.26 356.23 489.40 356.90 489.53 C357.57 489.66 358.23 489.78 358.90 489.90 C359.57 490.02 360.23 490.12 360.90 490.23 C361.57 490.33 362.23 490.42 362.90 490.51 C363.57 490.59 364.23 490.67 364.90 490.74 C365.57 490.82 366.23 490.88 366.90 490.94 C367.57 491.00 368.23 491.05 368.90 491.09 C369.57 491.13 370.23 491.17 370.90 491.19 C371.57 491.22 372.23 491.24 372.90 491.26 C373.57 491.27 374.23 491.28 374.90 491.28 C375.57 491.28 376.23 491.27 376.90 491.26 C377.57 491.25 378.23 491.23 378.90 491.20 C379.57 491.17 380.57 491.11 380.90 491.09" fill="none" stroke="#ff0000" stroke-width="1.70" stroke-linejoin="round" clip-path="url(#cl)"/>
<path d="M95.82 413.18 C95.94 413.39 96.30 414.02 96.54 414.44 C96.78 414.85 97.03 415.27 97.28 415.68 C97.52 416.09 97.78 416.50 98.03 416.91 C98.28 417.32 98.54 417.73 98.79 418.14 C99.05 418.54 99.31 418.95 99.57 419.35 C99.83 419.75 100.10 420.16 100.36 420.56 C100.63 420.96 100.89 421.36 101.16 421.75 C101.43 422.15 101.70 422.55 101.97 422.94 C102.24 423.34 102.52 423.73 102.79 424.13 C103.07 424.52 103.34 424.91 103.62 425.31 C103.90 425.70 104.18 426.09 104.46 426.48 C104.74 426.87 105.02 427.26 105.30 427.65 C105.58 428.04 105.86 428.43 106.14 428.81 C106.43 429.20 106.71 429.59 107.00 429.98 C107.28 430.36 107.57 430.75 107.85 431.14 C108.14 431.52 108.42 431.91 108.71 432.29 C108.99 432.68 109.28 433.07 109.57 433.45 C109.85 433.84 110.14 434.22 110.43 434.61 C110.71 434.99 111.00 435.38 111.28 435.77 C111.57 436.15 111.86 436.54 112.14 436.93 C112.43 437.31 112.71 437.70 113.00 438.09 C113.28 438.47 113.57 438.86 113.85 439.25 C114.13 439.64 114.42 440.03 114.70 440.42 C114.98 440.80 115.26 441.19 115.54 441.59 C115.82 441.98 116.10 442.37 116.38 442.76 C116.66 443.15 116.94 443.55 117.21 443.94 C117.49 444.34 117.76 444.73 118.03 445.13 C118.31 445.52 118.58 445.92 118.85 446.32 C119.12 446.72 119.39 447.12 119.65 447.52 C119.92 447.92 120.19 448.32 120.46 448.72 C120.73 449.11 121.00 449.51 121.27 449.91 C121.54 450.30 121.81 450.70 122.09 451.09 C122.37 451.48 122.65 451.87 122.93 452.25 C123.21 452.63 123.50 453.02 123.79 453.39 C124.08 453.77 124.38 454.14 124.68 454.50 C124.98 454.87 125.29 455.23 125.61 455.58 C125.92 455.93 126.24 456.28 126.57 456.62 C126.90 456.96 127.24 457.29 127.58 457.62 C127.92 457.95 128.27 458.27 128.63 458.59 C128.99 458.91 129.35 459.22 129.72 459.53 C130.10 459.85 130.47 460.16 130.86 460.46 C131.24 460.76 131.64 461.07 132.03 461.36 C132.43 461.65 132.84 461.94 133.25 462.22 C133.66 462.49 134.07 462.76 134.49 463.02 C134.91 463.28 135.34 463.52 135.77 463.76 C136.20 463.99 136.64 464.21 137.08 464.41 C137.52 464.61 137.96 464.80 138.41 464.97 C138.86 465.14 139.31 465.29 139.76 465.42 C140.22 465.55 140.68 465.66 141.14 465.75 C141.60 465.84 142.07 465.90 142.54 465.94 C143.00 465.98 143.47 465.99 143.94 465.99 C144.41 465.98 144.89 465.95 145.36 465.89 C145.83 465.84 146.30 465.76 146.76 465.67 C147.23 465.57 147.70 465.45 148.16 465.32 C148.61 465.18 149.07 465.02 149.52 464.85 C149.97 464.68 150.41 464.48 150.85 464.28 C151.28 464.07 151.71 463.84 152.12 463.60 C152.54 463.36 152.95 463.11 153.35 462.84 C153.74 462.57 154.13 462.28 154.51 461.99 C154.90 461.70 155.27 461.39 155.64 461.08 C156.00 460.77 156.36 460.44 156.72 460.12 C157.08 459.79 157.43 459.45 157.78 459.11 C158.13 458.77 158.47 458.43 158.81 458.08 C159.16 457.74 159.50 457.39 159.84 457.04 C160.18 456.70 160.52 456.35 160.86 456.00 C161.20 455.66 161.54 455.32 161.88 454.97 C162.22 454.63 162.56 454.29 162.89 453.94 C163.23 453.60 163.56 453.25 163.88 452.90 C164.21 452.55 164.53 452.19 164.84 451.83 C165.15 451.47 165.45 451.11 165.75 450.74 C166.05 450.36 166.34 449.99 166.62 449.61 C166.91 449.22 167.18 448.84 167.45 448.45 C167.72 448.05 167.99 447.66 168.24 447.26 C168.50 446.86 168.75 446.45 169.00 446.04 C169.24 445.63 169.48 445.22 169.71 444.80 C169.95 444.38 170.18 443.96 170.40 443.54 C170.62 443.11 170.84 442.68 171.05 442.25 C171.26 441.82 171.47 441.38 171.67 440.95 C171.87 440.51 172.07 440.07 172.27 439.63 C172.47 439.19 172.67 438.75 172.87 438.31 C173.06 437.87 173.26 437.43 173.46 436.99 C173.66 436.55 173.86 436.11 174.06 435.67 C174.26 435.23 174.46 434.80 174.66 434.36 C174.86 433.92 175.06 433.49 175.26 433.05 C175.47 432.61 175.67 432.18 175.87 431.74 C176.07 431.30 176.27 430.87 176.47 430.43 C176.67 429.99 176.87 429.56 177.07 429.12 C177.27 428.69 177.47 428.25 177.67 427.81 C177.87 427.38 178.07 426.94 178.27 426.50 C178.47 426.07 178.67 425.63 178.86 425.19 C179.06 424.76 179.25 424.32 179.45 423.88 C179.64 423.44 179.83 423.00 180.03 422.56 C180.22 422.12 180.41 421.68 180.60 421.24 C180.79 420.80 180.97 420.36 181.16 419.92 C181.35 419.47 181.53 419.03 181.71 418.59 C181.90 418.14 182.08 417.70 182.26 417.25 C182.43 416.80 182.61 416.36 182.79 415.91 C182.96 415.46 183.13 415.01 183.30 414.56 C183.47 414.11 183.72 413.43 183.81 413.20" fill="none" stroke="#00ff00" stroke-width="1.00" stroke-linejoin="round" clip-path="url(#cl)"/>
<path d="M77.59 413.21 C77.71 413.43 78.06 414.11 78.31 414.54 C78.57 414.97 78.84 415.39 79.12 415.81 C79.39 416.22 79.69 416.62 79.98 417.02 C80.28 417.42 80.59 417.81 80.91 418.19 C81.23 418.58 81.56 418.95 81.89 419.32 C82.22 419.70 82.56 420.06 82.90 420.43 C83.25 420.79 83.60 421.15 83.95 421.50 C84.30 421.86 84.66 422.21 85.02 422.56 C85.38 422.91 85.74 423.26 86.10 423.61 C86.46 423.96 86.82 424.31 87.19 424.65 C87.55 425.00 87.91 425.35 88.27 425.70 C88.63 426.04 89.00 426.39 89.36 426.74 C89.72 427.09 90.08 427.43 90.44 427.78 C90.81 428.13 91.17 428.48 91.53 428.83 C91.89 429.18 92.25 429.53 92.60 429.88 C92.96 430.23 93.32 430.58 93.67 430.93 C94.03 431.28 94.38 431.64 94.74 431.99 C95.09 432.35 95.44 432.70 95.79 433.06 C96.14 433.42 96.49 433.78 96.83 434.14 C97.18 434.50 97.52 434.87 97.86 435.23 C98.20 435.60 98.54 435.96 98.88 436.33 C99.22 436.70 99.55 437.07 99.88 437.45 C100.21 437.82 100.54 438.19 100.87 438.57 C101.20 438.94 101.53 439.32 101.85 439.70 C102.18 440.08 102.50 440.46 102.82 440.84 C103.15 441.22 103.47 441.61 103.79 441.99 C104.11 442.37 104.43 442.76 104.75 443.14 C105.06 443.53 105.38 443.91 105.70 444.30 C106.02 444.69 106.33 445.07 106.65 445.46 C106.97 445.85 107.28 446.23 107.60 446.62 C107.92 447.01 108.23 447.40 108.55 447.79 C108.86 448.18 109.18 448.57 109.49 448.96 C109.80 449.35 110.12 449.74 110.43 450.13 C110.74 450.52 111.05 450.91 111.36 451.30 C111.68 451.70 111.99 452.09 112.29 452.49 C112.60 452.88 112.91 453.28 113.22 453.67 C113.52 454.07 113.83 454.46 114.13 454.86 C114.44 455.26 114.74 455.66 115.04 456.06 C115.35 456.46 115.65 456.86 115.95 457.26 C116.25 457.66 116.55 458.06 116.85 458.47 C117.15 458.87 117.44 459.27 117.75 459.67 C118.05 460.07 118.35 460.47 118.65 460.87 C118.95 461.27 119.25 461.67 119.56 462.06 C119.86 462.46 120.17 462.86 120.47 463.25 C120.78 463.64 121.09 464.03 121.40 464.42 C121.72 464.81 122.03 465.20 122.35 465.58 C122.67 465.97 122.99 466.35 123.31 466.72 C123.64 467.10 123.97 467.48 124.30 467.85 C124.64 468.22 124.97 468.58 125.31 468.95 C125.66 469.31 126.00 469.67 126.36 470.02 C126.71 470.37 127.07 470.72 127.43 471.07 C127.79 471.41 128.16 471.75 128.54 472.08 C128.91 472.42 129.29 472.74 129.68 473.06 C130.07 473.39 130.47 473.70 130.87 474.01 C131.27 474.32 131.68 474.62 132.10 474.91 C132.52 475.21 132.94 475.49 133.38 475.77 C133.81 476.04 134.24 476.31 134.69 476.56 C135.13 476.81 135.58 477.05 136.03 477.27 C136.49 477.49 136.94 477.70 137.41 477.89 C137.87 478.08 138.34 478.25 138.81 478.40 C139.28 478.55 139.75 478.68 140.23 478.79 C140.71 478.90 141.19 478.99 141.67 479.05 C142.15 479.11 142.64 479.15 143.13 479.16 C143.61 479.17 144.10 479.16 144.59 479.11 C145.08 479.07 145.57 479.00 146.06 478.90 C146.54 478.81 147.03 478.69 147.52 478.55 C148.00 478.41 148.48 478.24 148.96 478.06 C149.43 477.88 149.91 477.68 150.37 477.46 C150.83 477.25 151.29 477.02 151.74 476.77 C152.19 476.53 152.64 476.27 153.07 476.01 C153.50 475.74 153.92 475.47 154.34 475.18 C154.75 474.89 155.15 474.59 155.55 474.29 C155.94 473.98 156.33 473.66 156.70 473.34 C157.08 473.01 157.44 472.68 157.80 472.34 C158.16 472.00 158.51 471.65 158.85 471.29 C159.20 470.94 159.54 470.57 159.87 470.20 C160.21 469.84 160.54 469.46 160.86 469.08 C161.19 468.70 161.51 468.32 161.82 467.93 C162.14 467.55 162.45 467.15 162.76 466.76 C163.07 466.36 163.38 465.96 163.68 465.56 C163.98 465.16 164.28 464.76 164.58 464.35 C164.88 463.94 165.17 463.54 165.46 463.13 C165.76 462.72 166.05 462.31 166.33 461.90 C166.62 461.49 166.91 461.08 167.18 460.66 C167.46 460.24 167.74 459.83 168.01 459.41 C168.27 458.99 168.53 458.56 168.79 458.13 C169.04 457.70 169.28 457.27 169.52 456.83 C169.76 456.39 169.98 455.95 170.21 455.50 C170.43 455.06 170.65 454.61 170.87 454.16 C171.09 453.71 171.30 453.25 171.51 452.80 C171.72 452.35 171.93 451.89 172.14 451.44 C172.35 450.98 172.56 450.53 172.77 450.08 C172.99 449.62 173.20 449.17 173.42 448.72 C173.64 448.27 173.86 447.82 174.08 447.37 C174.31 446.93 174.54 446.48 174.78 446.04 C175.01 445.60 175.25 445.16 175.50 444.72 C175.74 444.28 175.98 443.85 176.23 443.41 C176.47 442.97 176.72 442.54 176.97 442.10 C177.21 441.66 177.46 441.23 177.70 440.79 C177.95 440.35 178.19 439.91 178.42 439.47 C178.66 439.03 178.90 438.59 179.13 438.15 C179.36 437.70 179.58 437.26 179.80 436.81 C180.02 436.36 180.24 435.91 180.45 435.46 C180.66 435.01 180.87 434.55 181.07 434.09 C181.28 433.64 181.48 433.18 181.68 432.72 C181.87 432.26 182.07 431.80 182.26 431.34 C182.45 430.88 182.64 430.41 182.83 429.95 C183.02 429.49 183.20 429.02 183.39 428.55 C183.57 428.09 183.75 427.62 183.93 427.15 C184.11 426.69 184.29 426.22 184.47 425.75 C184.65 425.28 184.83 424.81 185.01 424.34 C185.19 423.88 185.37 423.41 185.55 422.94 C185.72 422.47 185.90 422.00 186.08 421.53 C186.26 421.07 186.44 420.60 186.62 420.13 C186.81 419.66 186.99 419.20 187.17 418.73 C187.36 418.27 187.54 417.80 187.73 417.34 C187.92 416.87 188.11 416.41 188.31 415.95 C188.50 415.49 188.69 415.03 188.89 414.57 C189.09 414.11 189.40 413.43 189.50 413.20" fill="none" stroke="#0000ff" stroke-width="1.00" stroke-linejoin="round" clip-path="url(#cl)"/>
<path d="M278.98 413.21 C279.05 413.35 279.28 413.77 279.43 414.06 C279.58 414.34 279.73 414.62 279.88 414.90 C280.02 415.18 280.17 415.46 280.32 415.74 C280.46 416.01 280.61 416.29 280.76 416.57 C280.91 416.84 281.05 417.12 281.20 417.39 C281.35 417.67 281.51 417.94 281.66 418.21 C281.81 418.48 281.97 418.75 282.13 419.02 C282.29 419.28 282.45 419.55 282.61 419.81 C282.78 420.07 282.95 420.34 283.12 420.59 C283.29 420.85 283.47 421.11 283.65 421.36 C283.83 421.62 284.02 421.87 284.21 422.12 C284.41 422.36 284.60 422.61 284.81 422.85 C285.01 423.09 285.22 423.33 285.44 423.57 C285.66 423.81 285.88 424.04 286.11 424.27 C286.35 424.50 286.59 424.73 286.83 424.95 C287.08 425.17 287.34 425.39 287.60 425.59 C287.86 425.80 288.13 426.00 288.40 426.19 C288.68 426.37 288.96 426.55 289.24 426.70 C289.52 426.86 289.81 427.00 290.10 427.11 C290.39 427.23 290.68 427.33 290.97 427.39 C291.26 427.46 291.56 427.51 291.85 427.52 C292.14 427.53 292.44 427.51 292.73 427.45 C293.02 427.40 293.31 427.32 293.58 427.20 C293.86 427.09 294.13 426.95 294.38 426.78 C294.62 426.61 294.86 426.40 295.07 426.18 C295.28 425.96 295.48 425.72 295.65 425.46 C295.82 425.20 295.98 424.91 296.10 424.63 C296.23 424.34 296.33 424.03 296.41 423.73 C296.50 423.42 296.55 423.10 296.60 422.78 C296.64 422.46 296.66 422.12 296.68 421.79 C296.69 421.46 296.68 421.12 296.68 420.78 C296.67 420.44 296.65 420.10 296.63 419.75 C296.61 419.41 296.58 419.07 296.55 418.73 C296.53 418.39 296.50 418.05 296.48 417.71 C296.45 417.38 296.43 417.04 296.43 416.72 C296.42 416.39 296.41 416.07 296.43 415.76 C296.44 415.45 296.46 415.14 296.50 414.85 C296.55 414.55 296.60 414.26 296.69 413.99 C296.77 413.72 296.94 413.34 296.99 413.21" fill="none" stroke="#0000ff" stroke-width="1.00" stroke-linejoin="round" clip-path="url(#cl)"/>
<path d="M115.16 413.23 C115.21 413.44 115.36 414.09 115.49 414.50 C115.62 414.91 115.78 415.31 115.95 415.70 C116.12 416.09 116.31 416.47 116.51 416.85 C116.71 417.22 116.93 417.58 117.16 417.94 C117.38 418.30 117.63 418.65 117.87 419.00 C118.12 419.35 118.38 419.69 118.64 420.04 C118.89 420.38 119.16 420.72 119.43 421.06 C119.69 421.39 119.96 421.73 120.23 422.07 C120.49 422.41 120.76 422.75 121.02 423.09 C121.29 423.43 121.55 423.77 121.82 424.10 C122.09 424.44 122.35 424.78 122.62 425.12 C122.89 425.45 123.16 425.79 123.43 426.12 C123.70 426.46 123.97 426.79 124.25 427.12 C124.53 427.45 124.81 427.77 125.09 428.10 C125.37 428.42 125.66 428.74 125.95 429.06 C126.24 429.38 126.53 429.69 126.83 430.00 C127.13 430.31 127.43 430.62 127.74 430.92 C128.05 431.22 128.36 431.51 128.68 431.80 C129.00 432.09 129.33 432.38 129.66 432.66 C129.99 432.94 130.33 433.21 130.67 433.48 C131.02 433.74 131.36 434.00 131.72 434.25 C132.07 434.50 132.43 434.75 132.80 434.98 C133.16 435.21 133.53 435.44 133.90 435.65 C134.28 435.87 134.66 436.07 135.04 436.27 C135.42 436.46 135.81 436.64 136.21 436.81 C136.60 436.98 137.00 437.14 137.40 437.29 C137.80 437.44 138.21 437.57 138.62 437.69 C139.03 437.81 139.44 437.92 139.86 438.01 C140.28 438.11 140.70 438.18 141.13 438.25 C141.56 438.31 141.99 438.36 142.42 438.39 C142.85 438.42 143.29 438.43 143.73 438.43 C144.17 438.43 144.61 438.41 145.04 438.38 C145.48 438.34 145.92 438.29 146.35 438.21 C146.78 438.14 147.21 438.05 147.63 437.95 C148.05 437.84 148.46 437.71 148.87 437.57 C149.27 437.42 149.67 437.26 150.05 437.07 C150.43 436.89 150.80 436.69 151.16 436.47 C151.52 436.24 151.87 436.00 152.20 435.75 C152.54 435.50 152.86 435.22 153.18 434.94 C153.49 434.66 153.80 434.36 154.09 434.05 C154.39 433.74 154.67 433.42 154.95 433.10 C155.23 432.77 155.50 432.43 155.76 432.09 C156.03 431.75 156.28 431.40 156.53 431.04 C156.78 430.69 157.02 430.33 157.26 429.97 C157.50 429.61 157.73 429.25 157.96 428.88 C158.19 428.51 158.41 428.14 158.63 427.77 C158.85 427.40 159.07 427.02 159.28 426.65 C159.50 426.27 159.71 425.89 159.92 425.51 C160.12 425.13 160.33 424.75 160.54 424.37 C160.74 423.99 160.95 423.61 161.15 423.23 C161.35 422.85 161.56 422.47 161.76 422.09 C161.97 421.71 162.17 421.33 162.38 420.95 C162.59 420.57 162.79 420.19 163.00 419.82 C163.21 419.44 163.43 419.07 163.64 418.70 C163.86 418.32 164.07 417.96 164.29 417.59 C164.52 417.22 164.74 416.85 164.96 416.49 C165.19 416.12 165.41 415.76 165.64 415.40 C165.87 415.03 166.10 414.67 166.33 414.31 C166.56 413.95 166.91 413.40 167.03 413.22" fill="none" stroke="#0000ff" stroke-width="1.70" stroke-linejoin="round" clip-path="url(#cl)"/>
<rect x="67.40" y="222.80" width="314.70" height="168.10" fill="none" stroke="#000" stroke-width="1.40"/>
<rect x="67.40" y="413.70" width="314.70" height="168.10" fill="none" stroke="#000" stroke-width="1.40"/>
<text x="328.0" y="381.0" font-size="12">normal</text>
<text x="327.7" y="571.8" font-size="12.05">inverted</text>
<path d="M80 556.3 H102.3" stroke="#000" stroke-width="0.9"/>
<path d="M80 571.5 H102.3" stroke="#000" stroke-width="1.6"/>
<text x="115.2" y="559.8" font-size="9">3σ</text>
<text x="115.2" y="575.0" font-size="9">5σ</text>
<path d="M144.7 529.4 H167.5" stroke="#ff0000" stroke-width="1.7"/>
<text x="180.3" y="533.0" font-size="8.65" xml:space="preserve">T2KK 750kW (2 x 0.28 Mton)</text>
<path d="M144.7 543.5 H167.5" stroke="#00ff00" stroke-width="1.7"/>
<text x="180.3" y="547.1" font-size="8.65" xml:space="preserve">T2HK 750kW (1 x 0.56 Mton)</text>
<path d="M144.7 557.6 H167.5" stroke="#ff00ff" stroke-width="1.7"/>
<text x="180.3" y="561.2" font-size="8.65" xml:space="preserve">T2KK 1.66 MW (2 x 0.28 Mton)</text>
<path d="M144.7 571.5 H167.5" stroke="#0000ff" stroke-width="1.7"/>
<text x="180.3" y="575.1" font-size="8.65" xml:space="preserve">T2HK 1.66MW  (1 x 0.56 Mton)</text>
<text transform="translate(36.8 427) rotate(-90)" font-size="17">sin<tspan font-size="11.5" dy="-8.2">2</tspan><tspan dy="8.2">2θ</tspan><tspan font-size="10.6" dy="6.2">13</tspan></text>
<text x="224.7" y="612.8" font-size="19" text-anchor="middle" font-family="Liberation Serif, serif">δ</text>
</svg>
</body></html>
